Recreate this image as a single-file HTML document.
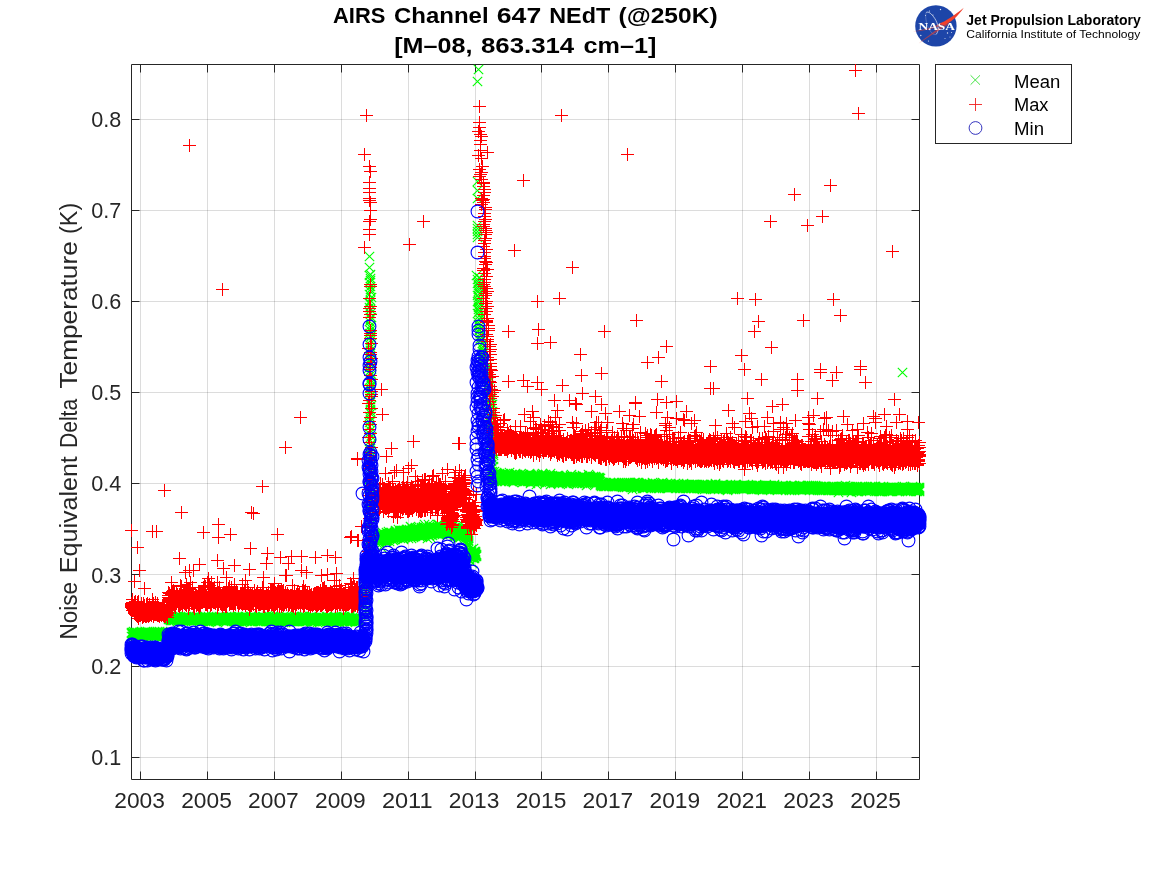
<!DOCTYPE html><html><head><meta charset="utf-8"><title>AIRS Channel 647 NEdT</title>
<style>html,body{margin:0;padding:0;background:#fff}svg{display:block;will-change:transform}text{font-family:'Liberation Sans',sans-serif}</style></head><body>
<svg width="1167" height="875" viewBox="0 0 1167 875" style="font-family:'Liberation Sans',sans-serif">
<rect width="1167" height="875" fill="#fff"/>
<defs>
<marker id="mp" markerUnits="userSpaceOnUse" markerWidth="16" markerHeight="16" refX="8" refY="8" viewBox="0 0 16 16" overflow="visible"><path d="M2 8.5H15M8.5 2V15" stroke="#f00" stroke-width="1" fill="none"/></marker>
<marker id="mx" markerUnits="userSpaceOnUse" markerWidth="16" markerHeight="16" refX="8" refY="8" viewBox="0 0 16 16" overflow="visible"><path d="M3.8 3.8L13.2 13.2M13.2 3.8L3.8 13.2" stroke="#0f0" stroke-width="1.1" fill="none"/></marker>
<marker id="mo" markerUnits="userSpaceOnUse" markerWidth="18" markerHeight="18" refX="9" refY="9" viewBox="0 0 18 18" overflow="visible"><circle cx="9.5" cy="9.5" r="6.4" stroke="#00f" stroke-width="1.1" fill="none"/></marker>
</defs>
<path d="M140.5 64.5V779.5M207.5 64.5V779.5M274.5 64.5V779.5M341.5 64.5V779.5M408.5 64.5V779.5M475.5 64.5V779.5M541.5 64.5V779.5M608.5 64.5V779.5M675.5 64.5V779.5M742.5 64.5V779.5M809.5 64.5V779.5M876.5 64.5V779.5" stroke="#262626" stroke-opacity="0.16" stroke-width="1" fill="none"/>
<path d="M131.5 757.5H919.5M131.5 666.5H919.5M131.5 574.5H919.5M131.5 483.5H919.5M131.5 392.5H919.5M131.5 301.5H919.5M131.5 210.5H919.5M131.5 119.5H919.5" stroke="#262626" stroke-opacity="0.16" stroke-width="1" fill="none"/>
<path d="M131.5 64.5H919.5V779.5H131.5ZM140.5 779.5v-8M140.5 64.5v8M207.5 779.5v-8M207.5 64.5v8M274.5 779.5v-8M274.5 64.5v8M341.5 779.5v-8M341.5 64.5v8M408.5 779.5v-8M408.5 64.5v8M475.5 779.5v-8M475.5 64.5v8M541.5 779.5v-8M541.5 64.5v8M608.5 779.5v-8M608.5 64.5v8M675.5 779.5v-8M675.5 64.5v8M742.5 779.5v-8M742.5 64.5v8M809.5 779.5v-8M809.5 64.5v8M876.5 779.5v-8M876.5 64.5v8M131.5 757.5h8M919.5 757.5h-8M131.5 666.5h8M919.5 666.5h-8M131.5 574.5h8M919.5 574.5h-8M131.5 483.5h8M919.5 483.5h-8M131.5 392.5h8M919.5 392.5h-8M131.5 301.5h8M919.5 301.5h-8M131.5 210.5h8M919.5 210.5h-8M131.5 119.5h8M919.5 119.5h-8" stroke="#262626" stroke-width="1" fill="none"/>
<polyline fill="none" stroke="none" marker-start="url(#mx)" marker-mid="url(#mx)" marker-end="url(#mx)" points="131,633 131,632 131,636 132,633 132,634 132,636 132,632 133,634 133,633 133,635 133,636 133,631 134,634 134,632 134,633 135,635 135,633 135,632 135,634 136,634 136,632 136,635 136,633 137,632 137,634 137,633 137,635 137,636 138,634 138,633 138,636 138,635 139,632 139,634 139,633 139,635 140,634 140,635 140,633 140,632 141,633 141,632 141,634 142,635 142,633 142,634 142,632 142,636 143,633 143,632 143,635 143,636 143,634 144,635 144,634 144,633 144,632 145,633 145,631 145,634 146,633 146,636 146,635 146,634 146,632 147,632 147,631 147,635 147,634 147,633 148,633 148,632 148,634 148,635 149,634 149,633 149,635 149,632 150,635 150,634 150,633 151,634 151,633 151,635 151,636 151,632 152,634 152,633 152,632 152,635 153,634 153,635 153,633 153,632 154,634 154,635 154,636 154,632 155,632 155,633 155,634 155,635 156,636 156,633 156,634 156,635 157,635 157,634 157,633 157,631 158,634 158,633 158,635 158,632 159,635 159,633 159,634 159,631 159,636 159,632 160,634 160,635 160,632 160,633 161,635 161,636 161,634 161,633 162,632 162,634 162,633 162,631 163,632 163,633 163,634 163,636 163,635 164,634 164,632 164,635 164,633 165,635 165,632 165,634 165,633 165,636 166,634 166,632 166,635 166,636 166,633 167,634 167,632 167,633 167,635 168,618 168,619 168,617 169,618 169,619 169,617 170,618 170,619 170,615 170,616 170,620 171,618 171,619 171,617 171,620 172,620 172,618 172,619 173,619 173,620 173,618 173,617 174,618 174,620 174,617 174,619 175,618 175,619 176,618 176,620 176,619 176,617 177,618 177,621 177,619 178,618 178,620 178,616 178,617 179,618 179,617 179,620 179,619 180,621 180,619 180,618 180,616 180,620 181,618 181,619 181,620 181,617 182,618 182,619 182,620 182,617 183,617 183,619 183,620 183,621 184,619 184,618 184,617 184,616 185,619 185,617 185,620 185,616 185,618 185,621 186,620 186,619 186,617 186,618 187,620 187,617 187,618 187,619 188,618 188,617 188,619 189,620 189,618 189,617 189,619 190,619 190,618 190,620 191,620 191,619 191,618 191,617 192,617 192,619 192,620 192,618 193,620 193,619 193,618 193,617 194,617 194,618 194,616 194,619 194,620 195,617 195,619 195,618 195,620 196,618 196,616 196,619 196,617 196,620 197,618 197,619 197,620 197,617 198,618 198,619 198,617 199,619 199,620 199,618 199,621 200,618 200,619 200,617 200,620 201,619 201,618 201,621 202,619 202,620 202,618 203,616 203,620 203,617 203,618 203,619 204,619 204,618 204,617 204,620 205,618 205,619 205,621 205,620 205,616 206,617 206,620 206,618 206,619 207,618 207,617 207,619 207,621 208,619 208,620 208,618 208,616 208,621 209,620 209,619 209,617 209,618 210,618 210,619 210,621 211,618 211,621 211,620 211,619 212,618 212,620 212,617 212,619 213,618 213,616 213,619 213,620 213,617 214,619 214,617 214,618 215,618 215,621 215,617 215,619 215,620 216,620 216,618 216,621 216,617 216,619 217,620 217,619 217,618 217,622 217,617 218,618 218,617 218,619 218,620 219,619 219,616 219,617 219,620 220,618 220,617 220,619 221,616 221,619 221,620 221,617 221,618 222,618 222,620 222,619 223,621 223,618 223,620 223,619 223,617 224,620 224,619 224,618 225,619 225,618 225,620 226,619 226,618 226,617 226,620 226,616 226,621 227,620 227,617 227,618 227,619 228,618 228,619 228,617 228,620 229,619 229,617 229,618 229,620 230,619 230,618 230,617 230,620 231,620 231,616 231,617 231,619 232,619 232,618 232,620 233,618 233,621 233,619 233,617 233,620 234,618 234,620 234,619 234,617 235,620 235,619 235,617 235,621 235,618 236,621 236,622 236,619 236,617 236,618 237,620 237,618 237,621 237,617 237,619 237,616 238,620 238,619 238,617 238,618 238,616 239,618 239,619 239,617 239,621 240,620 240,619 240,617 240,618 241,618 241,617 241,619 241,620 242,619 242,616 242,620 242,618 242,622 243,619 243,617 243,620 243,618 244,619 244,618 244,617 244,620 245,617 245,618 245,620 245,619 245,616 246,620 246,617 246,619 246,618 246,621 247,619 247,618 247,621 247,620 248,617 248,618 248,619 248,620 249,618 249,619 249,620 249,621 250,620 250,619 250,616 250,617 250,618 251,618 251,617 251,620 251,619 251,616 251,621 252,617 252,619 252,621 252,618 252,620 253,618 253,619 253,620 253,617 254,619 254,617 254,618 254,620 254,616 255,619 255,618 256,620 256,619 256,618 256,617 257,618 257,619 257,617 258,620 258,619 258,617 258,621 258,618 259,619 259,620 259,621 259,618 260,618 260,619 260,620 260,621 260,617 261,620 261,621 261,619 261,618 262,619 262,620 262,618 262,617 263,620 263,619 263,621 263,618 263,617 263,616 264,618 264,620 264,619 265,619 265,620 265,621 265,618 266,618 266,620 266,621 266,617 266,619 267,620 267,618 267,619 267,615 268,617 268,619 268,618 268,620 268,616 268,621 269,618 269,620 269,616 269,619 270,619 270,621 270,618 270,620 271,620 271,618 271,617 271,619 272,616 272,618 272,617 272,621 272,619 272,620 273,619 273,618 273,617 273,616 274,618 274,621 274,619 275,619 275,620 275,618 275,617 276,621 276,618 276,619 276,617 276,620 277,619 277,620 277,618 278,618 278,621 278,619 278,617 278,620 279,617 279,619 279,618 279,620 279,621 280,620 280,618 280,619 281,618 281,620 281,621 281,617 282,619 282,621 282,618 282,620 282,617 283,622 283,619 283,618 283,616 284,617 284,620 284,618 285,618 285,619 285,620 285,621 285,622 286,616 286,620 286,619 286,618 287,620 287,618 287,619 287,617 288,619 288,620 288,621 288,618 288,617 289,618 289,619 289,620 290,618 290,621 290,617 290,619 290,620 291,618 291,619 291,621 292,621 292,619 292,618 292,617 292,620 293,618 293,620 293,619 293,621 294,616 294,620 294,619 294,618 294,621 295,618 295,620 295,621 295,619 295,617 296,620 296,619 296,616 297,621 297,619 297,618 297,620 298,619 298,618 298,617 298,620 299,619 299,620 299,618 300,619 300,617 300,620 300,618 301,618 301,619 301,620 301,616 301,617 302,621 302,619 302,618 302,620 302,616 303,619 303,617 303,618 303,620 304,616 304,620 304,619 304,618 304,621 305,619 305,618 305,617 305,620 305,621 306,621 306,618 306,617 306,619 306,620 307,619 307,618 307,620 307,621 308,620 308,619 308,617 309,618 309,620 309,619 309,617 310,620 310,617 310,618 310,619 311,619 311,618 311,622 311,616 311,621 312,616 312,619 312,618 312,621 313,618 313,621 313,619 313,620 314,621 314,620 314,619 314,618 314,617 315,618 315,619 315,620 316,618 316,619 316,620 316,617 317,619 317,620 317,618 317,622 318,619 318,618 318,617 318,620 319,620 319,619 319,618 320,620 320,621 320,619 320,618 320,617 321,620 321,619 321,618 321,617 322,619 322,618 322,620 322,621 323,618 323,620 323,617 323,621 323,619 324,619 324,618 324,620 325,619 325,618 325,620 326,619 326,620 326,616 326,621 327,621 327,619 327,618 327,620 327,616 328,620 328,619 328,621 328,618 329,619 329,617 329,618 329,620 330,617 330,620 330,618 330,619 330,621 331,621 331,620 331,619 332,618 332,621 332,620 332,619 333,618 333,617 333,619 333,621 334,618 334,619 334,621 334,617 335,619 335,617 335,616 335,618 335,620 336,621 336,619 336,618 336,622 336,620 337,619 337,620 337,618 337,621 338,618 338,619 338,620 339,622 339,619 339,620 339,616 339,617 339,618 339,621 340,618 340,619 340,617 340,620 341,616 341,619 341,620 341,621 341,618 342,619 342,621 342,617 342,618 342,620 343,620 343,619 343,618 343,617 344,619 344,616 344,618 344,620 344,621 344,617 345,620 345,619 345,618 345,617 346,618 346,619 346,621 347,620 347,617 347,618 347,619 348,619 348,618 349,617 349,618 349,620 349,619 350,620 350,619 350,621 350,615 350,618 351,619 351,620 351,618 351,621 352,618 352,620 352,621 352,617 352,619 353,618 353,619 353,620 354,620 354,618 354,619 355,618 355,619 355,622 355,620 355,621 356,620 356,618 356,619 356,621 357,620 357,618 357,619 357,621 358,618 358,621 358,620 358,619 378,539 378,538 378,536 378,535 378,537 378,534 379,539 379,538 379,541 379,542 379,535 379,537 379,540 380,539 380,538 380,533 380,540 380,534 380,536 380,537 381,534 381,538 381,547 381,536 381,539 381,533 381,540 382,534 382,539 382,536 382,538 382,542 382,537 382,532 383,537 383,536 383,540 383,538 383,533 383,535 384,538 384,535 384,539 384,536 384,540 384,537 385,535 385,541 385,537 385,534 385,536 386,538 386,537 386,536 386,540 386,535 386,539 386,541 386,532 386,534 387,536 387,537 387,534 387,540 387,539 387,538 387,533 388,534 388,537 388,535 388,538 388,533 388,531 389,537 389,535 389,536 389,539 389,533 389,541 390,537 390,534 390,535 390,536 390,538 391,536 391,535 391,537 391,532 391,534 392,534 392,539 392,535 392,533 392,537 392,536 393,536 393,535 393,540 393,534 393,538 393,533 394,536 394,535 394,539 394,532 394,534 394,533 394,537 395,533 395,536 395,535 395,531 395,530 395,534 395,537 396,536 396,534 396,531 396,537 396,532 396,533 397,537 397,538 397,533 397,535 397,536 397,534 397,532 398,536 398,534 398,533 398,529 398,537 399,537 399,534 399,531 399,533 399,536 399,535 400,532 400,535 400,531 400,530 400,534 400,533 401,530 401,535 401,531 401,536 401,533 401,537 402,534 402,531 402,532 402,530 402,535 402,533 402,536 403,533 403,532 403,535 403,530 403,531 403,534 403,538 403,539 404,535 404,537 404,530 404,536 404,531 404,533 404,534 404,532 405,534 405,532 405,535 405,536 405,531 405,533 406,534 406,535 406,530 406,533 406,536 406,531 406,529 407,535 407,534 407,536 407,530 407,532 407,531 407,529 408,533 408,532 408,538 408,535 408,536 408,534 408,531 409,533 409,530 409,534 409,529 409,535 409,536 409,531 409,532 410,534 410,531 410,526 410,536 410,535 410,532 411,533 411,530 411,534 411,535 411,531 411,532 411,527 411,538 412,532 412,536 412,533 412,529 412,531 412,534 412,530 413,534 413,537 413,532 413,536 413,531 413,535 413,533 413,529 414,529 414,534 414,533 414,528 414,530 414,531 414,532 415,533 415,534 415,529 415,531 415,528 415,527 415,532 415,536 416,531 416,530 416,533 416,534 416,532 416,529 416,528 417,534 417,530 417,531 417,532 417,535 417,527 418,533 418,534 418,529 418,532 419,531 419,529 419,536 419,533 419,530 419,535 419,534 419,532 420,531 420,530 420,533 420,534 420,529 421,529 421,534 421,531 421,527 421,536 421,528 421,530 421,532 422,530 422,531 422,528 422,534 422,529 422,535 422,533 422,536 423,533 423,530 423,531 423,528 423,527 423,529 423,532 423,526 424,531 424,535 424,529 424,533 424,530 424,534 424,524 425,534 425,532 425,531 425,533 425,528 425,529 425,527 426,530 426,529 426,534 426,533 426,532 426,528 426,531 427,530 427,532 427,538 427,533 427,531 428,535 428,532 428,531 428,529 428,530 428,524 428,528 429,529 429,533 429,532 429,530 429,535 429,531 429,526 430,531 430,537 430,528 430,530 430,529 431,530 431,532 431,533 431,531 431,534 431,529 432,535 432,528 432,527 432,533 432,532 432,529 432,530 433,529 433,531 433,526 433,530 433,532 433,527 434,530 434,528 434,532 434,531 434,527 434,533 435,529 435,527 435,528 435,531 435,533 436,529 436,531 436,528 436,527 436,532 436,530 436,533 437,527 437,524 437,531 437,530 437,526 437,532 438,530 438,534 438,528 438,524 438,529 438,532 438,533 439,525 439,529 439,528 439,531 439,534 439,527 440,527 440,530 440,526 440,528 440,529 441,528 441,530 441,531 441,533 441,527 441,532 441,526 441,529 442,528 442,527 442,532 442,530 442,533 442,531 442,529 442,534 443,529 443,531 443,532 443,528 444,531 444,528 444,532 444,526 444,533 444,530 445,529 445,531 445,530 445,533 445,532 445,528 446,532 446,528 446,525 446,531 446,533 446,529 446,530 446,534 447,532 447,528 447,530 447,524 447,527 447,529 447,533 448,531 448,527 448,533 448,532 448,534 448,530 449,528 449,531 449,533 449,529 449,526 450,532 450,530 450,528 450,531 450,529 450,527 450,526 451,530 451,529 451,527 451,532 451,531 451,533 452,528 452,530 452,531 452,532 452,526 452,529 453,529 453,528 453,531 453,530 453,533 453,524 453,532 454,529 454,530 454,527 454,533 454,532 454,535 454,531 455,533 455,529 455,534 455,535 455,531 455,536 455,527 455,530 456,532 456,533 456,531 456,534 456,529 456,528 456,535 457,535 457,533 457,525 457,538 457,527 457,530 457,536 457,532 458,530 458,531 458,528 458,534 458,533 458,532 459,535 459,534 459,533 459,532 459,537 460,532 460,533 460,537 460,535 460,534 460,529 460,531 460,530 461,530 461,531 461,533 461,532 461,528 461,534 462,533 462,531 462,532 462,530 462,534 463,530 463,532 463,534 463,533 463,540 463,528 463,531 464,533 464,534 464,535 464,529 464,530 465,533 465,534 465,535 465,529 465,532 465,536 466,528 466,531 466,536 466,532 466,535 466,534 466,529 466,533 467,531 467,535 467,533 467,537 467,536 467,539 467,532 467,534 468,534 468,540 468,538 468,543 468,541 468,545 468,544 468,546 468,553 469,556 469,553 469,557 469,552 469,555 469,559 470,553 470,552 470,551 470,555 470,556 470,554 471,553 471,554 471,556 471,551 471,557 471,552 471,549 472,556 472,554 472,553 472,563 472,555 472,557 473,554 473,553 473,555 473,558 473,552 473,557 473,548 473,556 474,554 474,555 474,558 474,551 474,557 474,552 475,554 475,552 475,553 475,555 475,556 475,551 476,555 476,556 476,554 492,476 492,477 492,478 492,479 492,474 492,475 493,479 493,478 493,476 493,475 493,474 494,477 494,474 494,471 494,475 494,479 494,478 494,481 494,476 495,479 495,477 495,475 495,478 495,476 496,481 496,479 496,472 496,476 496,478 496,473 496,477 497,479 497,474 497,477 497,476 497,478 497,473 498,479 498,474 498,476 498,478 498,475 498,477 498,480 499,478 499,474 499,477 499,475 499,476 499,479 500,479 500,476 500,478 500,481 500,474 500,477 500,475 501,479 501,477 501,474 501,475 501,481 501,476 501,478 502,476 502,477 502,479 502,475 503,476 503,477 503,478 503,474 503,479 503,473 503,475 504,477 504,476 504,478 504,480 504,479 505,476 505,480 505,473 505,479 505,481 505,478 505,477 506,477 506,474 506,476 506,479 506,478 507,477 507,474 507,478 507,479 507,476 507,473 508,475 508,477 508,476 508,478 508,479 508,480 509,475 509,478 509,476 509,480 509,479 509,472 509,477 510,480 510,477 510,476 510,478 510,479 511,477 511,475 511,481 511,479 511,478 511,476 511,474 512,479 512,481 512,478 512,477 512,480 512,476 513,482 513,475 513,476 513,478 513,479 513,477 514,479 514,477 514,475 514,480 514,478 514,474 515,473 515,479 515,477 515,476 515,475 515,478 515,480 516,478 516,477 516,480 516,474 516,475 517,476 517,477 517,478 517,475 517,479 517,474 518,477 518,478 518,479 518,475 518,480 519,478 519,476 519,477 519,475 520,478 520,477 520,479 520,474 521,480 521,477 521,479 521,476 521,478 522,478 522,482 522,479 522,477 522,480 522,476 522,475 523,477 523,478 523,474 523,475 523,480 523,481 523,479 523,476 524,478 524,477 524,476 524,475 524,479 524,481 525,475 525,478 525,477 525,480 525,481 525,476 526,476 526,477 526,475 526,479 526,478 527,477 527,479 527,481 527,475 527,480 527,476 528,478 528,476 528,481 528,474 528,477 529,478 529,473 529,477 529,479 529,480 530,475 530,477 530,479 530,474 530,476 530,481 530,483 531,479 531,478 531,475 531,480 531,477 532,477 532,479 532,481 532,478 532,480 532,476 533,479 533,481 533,478 533,477 533,480 534,478 534,479 534,480 534,477 534,476 534,481 535,476 535,480 535,477 535,475 535,479 535,478 536,477 536,480 536,481 536,484 536,479 536,475 536,476 537,479 537,474 537,480 537,475 537,477 537,476 537,478 538,478 538,477 538,481 538,479 538,475 539,481 539,479 539,480 539,477 539,476 540,480 540,478 540,481 540,477 540,479 540,476 541,476 541,480 541,478 541,474 541,475 541,479 541,477 542,473 542,479 542,478 542,480 542,477 542,475 542,476 543,477 543,476 543,478 543,480 543,479 543,474 544,477 544,479 544,478 544,475 544,481 545,479 545,483 545,480 545,481 545,482 545,477 545,474 546,477 546,480 546,478 546,479 546,475 547,477 547,479 547,476 547,482 547,478 547,480 547,481 548,478 548,477 548,479 548,480 549,477 549,480 549,478 549,482 549,479 550,484 550,475 550,477 550,473 550,481 550,478 550,479 550,480 551,477 551,480 551,478 551,476 551,479 551,483 552,476 552,475 552,480 552,478 552,479 553,482 553,478 553,477 553,480 553,476 554,479 554,478 554,476 554,482 554,477 555,478 555,482 555,480 555,481 555,479 555,476 556,479 556,478 556,476 556,477 556,480 556,482 557,477 557,478 557,475 557,480 557,479 558,479 558,480 558,483 558,478 558,475 558,476 558,481 559,479 559,478 559,477 559,480 559,476 559,481 560,478 560,479 560,477 560,480 560,482 561,478 561,479 561,477 561,480 561,481 562,476 562,480 562,477 562,481 562,479 562,478 562,483 563,479 563,478 563,477 563,480 563,481 564,477 564,481 564,476 564,478 564,479 564,480 565,478 565,480 565,479 565,481 566,479 566,478 566,480 566,482 566,481 566,476 566,483 567,481 567,478 567,479 567,483 567,480 567,477 568,480 568,477 568,481 568,478 568,479 568,484 569,480 569,479 569,481 569,478 569,482 570,479 570,480 570,477 570,481 570,478 570,475 571,477 571,479 571,481 571,476 571,474 571,480 571,478 572,482 572,480 572,481 572,479 572,478 572,477 573,477 573,481 573,479 573,480 573,483 573,478 574,481 574,480 574,478 574,479 574,482 575,480 575,479 575,477 575,476 575,478 575,481 576,481 576,479 576,478 576,477 576,482 576,480 577,477 577,480 577,478 577,483 577,481 577,482 578,478 578,477 578,480 578,481 578,482 578,479 579,480 579,479 579,481 579,478 579,483 580,477 580,480 580,476 580,481 580,479 580,478 581,481 581,480 581,479 581,478 581,477 582,480 582,476 582,478 582,477 582,483 582,475 583,480 583,478 583,477 583,481 583,479 584,476 584,481 584,483 584,477 584,480 584,478 584,479 585,478 585,480 585,481 585,479 586,480 586,477 586,485 586,482 586,479 586,478 587,480 587,479 587,481 587,478 587,482 587,484 588,479 588,477 588,483 588,474 588,480 589,481 589,480 589,475 589,479 589,478 589,476 590,479 590,476 590,482 590,481 590,478 591,480 591,481 591,479 592,482 592,481 592,477 592,479 592,478 592,480 593,480 593,476 593,481 593,479 593,478 593,477 594,478 594,480 594,479 594,481 594,477 595,481 595,476 595,479 595,480 595,477 595,482 596,482 596,481 596,480 596,479 596,483 596,478 596,477 597,478 597,481 597,480 597,479 597,482 598,477 598,481 598,482 598,479 598,480 598,478 599,478 599,481 599,480 599,477 599,482 600,481 600,478 600,483 600,485 600,484 601,486 601,483 601,484 601,482 601,485 602,485 602,484 602,483 602,482 603,486 603,484 603,485 603,483 603,482 604,484 604,485 604,486 604,483 605,486 605,485 605,484 605,483 606,484 606,485 606,486 607,484 607,485 608,484 608,485 608,483 608,486 609,484 609,485 609,483 610,482 610,485 610,483 610,484 611,485 611,484 611,483 612,486 612,485 612,484 612,483 613,484 613,485 613,482 613,483 614,483 614,486 614,482 614,485 614,484 615,486 615,483 615,484 615,485 616,484 616,485 616,483 616,486 617,485 617,483 617,484 618,483 618,482 618,485 618,486 618,484 619,483 619,485 619,484 619,486 620,486 620,484 620,485 621,485 621,483 621,486 622,487 622,485 622,483 622,484 622,486 623,485 623,484 623,486 623,483 624,485 624,484 624,482 624,487 624,483 624,486 625,484 625,485 625,486 626,487 626,484 626,485 626,483 626,486 627,483 627,485 627,486 627,484 628,484 628,485 628,482 629,485 629,484 629,483 629,486 630,484 630,486 630,485 630,482 630,483 631,485 631,486 631,487 631,484 632,484 632,485 632,489 632,483 632,486 633,486 633,485 633,484 633,483 634,485 634,487 634,483 634,484 634,482 634,486 635,485 635,486 635,482 635,484 636,484 636,485 636,486 636,488 636,487 637,485 637,484 637,486 637,482 638,486 638,485 638,483 638,484 638,482 639,484 639,485 639,486 639,487 639,483 640,486 640,484 640,485 641,484 641,486 641,485 641,483 642,484 642,486 642,485 642,488 643,485 643,486 643,488 643,484 644,484 644,483 644,485 644,487 644,486 645,487 645,486 645,484 645,485 645,483 646,485 646,484 646,486 646,487 647,485 647,486 647,487 647,483 648,484 648,486 648,485 649,485 649,486 649,487 649,484 650,486 650,485 650,484 651,486 651,487 651,485 652,485 652,482 652,484 652,487 653,485 653,486 653,484 654,486 654,485 654,484 654,488 655,484 655,485 655,486 655,483 656,485 656,487 656,488 656,486 656,484 657,484 657,485 657,486 658,484 658,488 658,486 658,485 658,487 658,483 659,487 659,488 659,484 659,485 659,486 660,487 660,485 660,486 660,484 661,485 661,486 661,484 661,487 661,483 662,484 662,486 662,485 662,482 662,487 663,486 663,485 663,487 663,483 664,486 664,487 664,485 664,484 665,487 665,484 665,485 665,486 666,484 666,485 666,486 667,485 667,487 667,486 667,483 668,488 668,485 668,486 668,487 668,484 669,486 669,487 669,485 669,484 670,485 670,487 670,486 670,484 671,485 671,486 671,484 671,487 672,485 672,486 672,487 673,485 673,486 673,487 674,487 674,485 674,486 675,488 675,483 675,485 675,486 675,487 676,485 676,486 676,487 677,486 677,487 677,484 678,486 678,485 678,483 678,487 678,484 679,484 679,488 679,485 679,486 679,487 680,487 680,486 680,485 680,488 681,487 681,484 681,485 681,486 682,487 682,485 682,486 682,488 682,484 683,486 683,485 683,483 684,486 684,485 684,487 685,487 685,486 685,485 685,488 686,486 686,488 686,487 686,485 687,487 687,485 687,486 688,487 688,488 688,486 688,485 689,487 689,486 689,484 689,485 690,487 690,485 690,486 691,484 691,487 691,485 691,488 691,486 692,486 692,487 692,484 692,485 693,485 693,486 693,484 693,487 693,488 694,485 694,486 694,484 695,485 695,486 695,487 695,484 696,485 696,484 696,486 696,487 697,484 697,487 697,488 697,486 697,485 698,488 698,487 698,485 698,486 699,486 699,487 699,485 699,488 700,486 700,487 700,488 701,485 701,487 701,488 701,486 702,487 702,484 702,485 702,486 702,488 702,489 703,485 703,486 703,487 704,486 704,487 704,485 704,489 705,485 705,487 705,486 705,488 706,486 706,488 706,485 706,487 707,487 707,486 707,484 707,488 707,485 708,486 708,485 708,487 708,488 709,485 709,486 709,487 710,487 710,485 710,486 710,484 711,484 711,487 711,486 711,485 711,488 712,487 712,485 712,486 712,488 712,484 713,486 713,487 713,485 713,488 714,488 714,486 714,487 714,485 714,489 715,483 715,488 715,487 715,485 715,484 715,486 716,486 716,485 716,487 716,488 717,485 717,488 717,487 717,486 718,488 718,486 718,487 718,485 718,489 719,487 719,488 719,485 720,487 720,488 720,486 720,485 721,486 721,488 721,485 721,487 722,486 722,487 722,488 723,487 723,486 723,488 723,484 723,485 724,486 724,487 725,486 725,487 725,485 725,489 725,488 726,487 726,486 726,485 727,488 727,487 727,489 727,486 727,490 728,486 728,487 728,489 729,485 729,486 729,487 729,488 730,487 730,488 730,485 730,486 730,484 731,488 731,486 731,487 731,485 731,489 732,486 732,487 732,488 732,485 733,487 733,486 733,489 733,488 733,485 734,487 734,486 734,488 734,485 735,486 735,487 735,484 735,488 735,485 736,487 736,488 736,486 736,485 737,486 737,488 737,487 738,486 738,487 738,488 738,485 739,487 739,488 739,486 740,487 740,485 740,486 740,488 741,485 741,487 741,488 741,486 742,486 742,487 742,488 742,485 743,486 743,487 743,489 743,485 744,487 744,486 744,488 744,484 745,487 745,488 745,485 745,486 746,487 746,486 746,488 747,486 747,487 747,488 747,485 748,486 748,487 749,488 749,486 749,487 750,486 750,488 750,485 750,487 751,486 751,487 751,485 751,489 751,488 752,486 752,487 752,489 752,485 752,488 753,488 753,487 753,489 754,487 754,488 754,485 754,489 754,486 755,487 755,486 755,488 756,489 756,487 756,488 756,486 756,485 756,484 757,487 757,486 757,485 757,488 758,487 758,488 758,486 758,489 758,485 759,487 759,486 759,488 759,485 759,489 760,486 760,487 760,489 761,486 761,487 761,488 762,488 762,487 762,490 762,486 762,489 763,487 763,488 763,486 764,488 764,487 764,485 764,486 765,488 765,487 765,486 765,485 766,488 766,489 766,487 766,485 766,486 767,486 767,489 767,488 767,487 768,485 768,487 768,488 768,489 768,486 769,487 769,485 769,486 769,489 769,488 770,486 770,487 770,488 770,485 771,486 771,488 771,487 771,485 771,489 772,487 772,486 772,488 772,489 773,486 773,488 773,487 774,487 774,488 774,484 774,486 774,489 775,487 775,486 775,488 776,488 776,487 776,489 776,486 777,487 777,488 777,486 777,489 777,490 778,487 778,488 778,486 778,489 779,488 779,486 779,487 780,487 780,488 780,486 780,489 781,488 781,486 781,489 781,487 782,489 782,487 782,486 782,488 782,485 783,488 783,487 783,489 783,486 784,487 784,488 785,486 785,488 785,487 785,485 786,487 786,488 786,489 787,487 787,486 787,488 788,487 788,486 788,488 788,489 789,488 789,487 789,490 789,489 789,486 790,487 790,488 790,486 791,488 791,487 791,485 791,490 791,486 791,489 792,488 792,487 792,489 792,486 793,489 793,487 793,488 793,486 794,487 794,489 794,490 794,486 794,485 795,487 795,486 795,489 795,488 796,488 796,487 796,486 796,489 797,488 797,487 798,488 798,486 798,489 798,487 799,489 799,486 799,488 799,487 799,485 800,487 800,489 800,486 800,485 801,488 801,487 801,486 801,489 802,487 802,489 802,488 803,488 803,487 803,489 803,486 804,489 804,488 804,486 804,487 805,489 805,488 805,487 805,486 806,488 806,489 806,486 807,488 807,486 807,487 807,485 807,489 808,487 808,488 808,489 808,486 809,489 809,487 809,485 809,488 809,490 810,489 810,486 810,488 810,487 811,487 811,489 811,485 811,488 811,486 812,488 812,487 812,486 812,489 813,488 813,489 813,487 813,490 813,485 814,487 814,488 814,489 815,486 815,489 815,485 815,487 815,488 816,489 816,487 816,486 816,488 817,487 817,486 817,489 817,488 818,488 818,489 818,486 818,487 819,488 819,487 819,489 819,490 820,487 820,489 820,488 820,486 821,489 821,488 821,486 821,487 821,490 822,488 822,487 822,489 823,490 823,487 823,488 823,489 824,487 824,489 824,488 824,486 825,487 825,490 825,488 825,486 825,489 826,488 826,487 826,486 826,489 827,488 827,489 827,487 828,487 828,488 828,486 828,490 828,489 829,488 829,487 829,489 830,487 830,488 830,489 831,486 831,489 831,490 831,488 831,487 832,487 832,489 832,488 832,486 833,489 833,488 833,487 833,486 834,488 834,490 834,487 834,489 835,487 835,489 835,488 835,490 836,487 836,489 836,488 837,488 837,489 837,487 837,490 838,490 838,492 838,488 838,486 838,489 839,488 839,487 839,489 839,490 840,490 840,488 840,489 840,487 841,490 841,488 841,487 841,486 841,489 842,486 842,488 842,487 842,489 842,490 843,488 843,490 843,487 843,489 843,486 844,488 844,489 844,486 844,487 845,488 845,487 845,489 845,485 846,488 846,487 846,489 847,489 847,488 847,487 847,490 847,486 848,488 848,487 848,489 848,490 849,487 849,489 849,488 849,490 850,487 850,490 850,489 850,488 850,486 851,489 851,492 851,488 851,490 851,487 852,487 852,490 852,488 852,489 853,487 853,488 853,489 854,490 854,487 854,488 854,489 855,487 855,488 855,490 856,488 856,491 856,489 856,486 856,487 857,489 857,488 857,491 857,487 857,486 858,489 858,487 858,491 858,488 858,490 859,490 859,488 859,489 859,487 860,488 860,486 860,489 860,490 860,487 861,489 861,490 861,488 861,487 861,491 862,489 862,488 862,490 862,487 862,486 863,488 863,489 863,487 863,490 864,488 864,487 864,490 864,489 865,488 865,487 865,489 866,489 866,487 866,488 866,491 867,488 867,487 867,490 867,489 868,487 868,488 868,489 869,489 869,487 869,490 869,488 870,489 870,486 870,488 870,487 871,490 871,488 871,487 871,489 872,489 872,487 872,486 873,488 873,489 873,487 873,490 874,489 874,488 874,487 874,486 875,490 875,488 875,487 875,489 875,486 876,490 876,489 876,488 876,491 877,489 877,488 877,490 878,489 878,488 878,491 878,490 879,488 879,487 879,489 879,490 879,491 880,491 880,488 880,486 880,489 880,487 881,490 881,488 881,489 881,491 881,487 882,490 882,488 882,491 882,489 883,489 883,486 883,488 883,487 884,488 884,489 884,490 885,488 885,489 885,487 885,490 886,489 886,488 886,490 886,487 887,490 887,488 887,487 887,489 888,489 888,488 888,487 888,491 888,490 889,490 889,487 889,488 889,489 890,489 890,488 890,491 890,490 890,487 891,488 891,489 891,490 891,487 892,489 892,488 892,490 892,487 892,491 893,490 893,487 893,489 893,488 894,489 894,490 894,488 895,488 895,489 895,490 896,488 896,487 896,490 896,489 897,488 897,489 897,490 897,491 898,489 898,490 898,487 898,488 899,487 899,489 899,490 899,488 899,491 900,489 900,488 900,490 901,489 901,490 901,488 901,487 902,489 902,488 902,490 902,486 903,487 903,489 903,490 903,488 904,488 904,489 904,487 904,486 905,489 905,491 905,490 905,488 906,487 906,488 906,489 906,490 907,490 907,489 907,488 907,491 908,488 908,487 908,489 908,490 909,488 909,487 909,489 909,490 910,490 910,489 910,488 910,491 911,489 911,488 911,490 912,489 912,486 912,487 912,488 913,490 913,489 913,488 913,487 914,488 914,490 914,489 914,487 915,490 915,487 915,488 915,489 916,491 916,489 916,487 916,488 916,490 917,489 917,490 917,491 917,488 918,487 918,488 918,489 918,490 919,490 919,488 919,491 919,489 919,487 902,372 369,256 369,267 370,274 369,275 370,278 370,280 369,282 370,286 370,289 370,291 369,294 371,297 370,300 369,302 369,303 369,307 370,309 370,313 371,317 370,318 369,321 370,325 370,327 370,330 369,333 371,335 370,337 370,340 369,344 370,347 370,350 370,353 369,356 370,359 370,362 370,364 368,368 369,371 371,374 371,377 370,379 370,381 370,383 371,385 369,388 370,391 369,393 370,396 370,399 370,402 371,405 370,409 370,411 370,413 369,416 370,420 369,422 369,426 370,430 369,433 371,436 370,440 371,443 370,445 369,449 369,453 370,455 370,457 368,459 370,462 369,466 370,470 370,473 369,476 369,479 370,482 370,485 369,487 370,490 370,494 369,497 370,500 370,504 368,507 369,509 369,513 371,516 371,517 369,521 370,524 369,526 371,529 370,533 370,536 370,539 369,541 371,543 370,546 369,549 371,553 371,555 369,557 368,560 368,562 366,564 365,567 366,569 366,573 365,576 366,578 365,580 365,583 365,585 365,588 365,591 365,594 365,598 366,602 365,605 365,609 365,612 365,616 366,617 478,69 477,81 477,181 477,190 477,198 477,225 477,228 477,231 477,234 477,237 476,275 479,277 477,279 478,282 477,283 478,285 478,287 478,289 478,291 479,293 477,295 478,297 478,300 477,301 478,302 478,305 478,307 478,309 479,311 477,313 480,314 480,317 479,319 478,322 478,324 479,326 479,329 479,330 480,333 480,335 480,338 480,340 482,343 482,346 482,348 483,350 482,351 483,352 481,354 482,356 482,357 482,359 484,360 483,363 484,364 486,366 486,368 486,370 485,373 486,375 488,376 488,379 488,381 488,382 487,385 488,387 488,390 490,392 489,394 491,396 491,398 490,400 489,403 492,404 490,406 490,409 492,411 492,412 490,414 490,416 492,418 490,420 490,423 491,424 491,427 492,429 490,430 492,432 492,433 491,435 492,437 492,439 491,442 490,443 490,445 492,447 492,450 493,453 493,455 491,456 493,459 491,461 491,464 493,466 491,468 492,471 491,472"/>
<polyline fill="none" stroke="none" marker-start="url(#mp)" marker-mid="url(#mp)" marker-end="url(#mp)" points="131,604 131,606 131,603 131,605 131,607 132,605 132,599 132,604 132,608 132,602 132,610 133,607 133,606 133,608 133,605 133,610 133,609 134,610 134,602 134,609 134,608 134,611 134,613 134,612 135,614 135,613 135,607 135,611 135,609 135,601 136,613 136,614 136,610 136,611 136,612 136,615 137,610 137,611 137,602 137,612 137,613 137,614 137,616 138,612 138,610 138,618 138,601 138,608 138,613 138,611 138,609 139,608 139,612 139,611 139,610 139,614 139,615 139,609 140,615 140,614 140,612 140,609 140,613 140,610 140,608 140,611 141,609 141,614 141,613 141,610 141,612 141,611 141,603 142,610 142,612 142,617 142,613 142,609 142,611 143,612 143,613 143,614 143,616 143,611 143,603 143,610 144,613 144,611 144,614 144,605 144,615 145,610 145,615 145,612 145,614 145,609 145,616 145,611 146,611 146,612 146,609 146,616 146,604 146,613 147,613 147,611 147,614 147,603 147,607 147,615 147,612 148,613 148,614 148,607 148,612 148,610 148,616 149,610 149,612 149,615 149,611 149,614 149,613 149,604 150,611 150,614 150,612 150,609 150,607 151,614 151,611 151,613 151,615 151,612 151,610 152,608 152,601 152,611 152,610 152,599 152,613 152,609 153,616 153,612 153,611 153,606 153,608 153,603 153,613 154,612 154,613 154,610 154,611 154,614 154,609 155,609 155,614 155,608 155,602 155,613 155,612 156,612 156,608 156,613 156,609 156,614 157,614 157,612 157,615 157,603 157,611 157,613 157,609 157,608 158,611 158,613 158,609 158,612 158,615 158,610 158,614 159,613 159,612 159,616 159,614 159,610 159,608 159,611 160,613 160,610 160,609 160,611 160,612 160,614 161,614 161,609 161,611 161,612 161,615 162,612 162,614 162,613 162,608 162,611 163,610 163,612 163,615 163,611 163,609 163,613 163,608 164,612 164,609 164,615 164,611 164,613 164,614 164,610 164,616 165,615 165,616 165,611 165,612 165,613 165,610 166,613 166,612 166,611 166,614 166,607 166,608 167,610 167,615 167,613 167,608 167,612 167,617 168,595 168,600 168,597 168,599 168,604 168,592 168,601 169,597 169,599 169,600 169,598 169,593 169,604 169,602 170,599 170,600 170,601 170,597 170,595 171,600 171,594 171,599 171,598 171,605 172,599 172,595 172,602 172,603 172,598 172,591 172,600 172,597 173,600 173,591 173,590 173,597 173,601 173,602 173,604 174,596 174,599 174,605 174,598 174,601 174,595 174,592 175,607 175,603 175,600 175,598 175,597 176,597 176,603 176,601 176,602 176,600 176,594 176,593 176,598 176,599 176,596 177,599 177,600 177,601 177,598 177,594 177,597 178,597 178,605 178,603 178,600 178,598 178,604 178,599 179,606 179,602 179,601 179,598 179,600 179,603 179,594 179,595 180,592 180,596 180,593 180,599 180,594 180,597 180,595 180,604 180,601 180,585 181,602 181,601 181,594 181,598 181,603 181,597 181,600 181,599 181,592 181,586 182,599 182,597 182,602 182,600 182,595 182,604 182,605 183,602 183,593 183,598 183,599 183,600 183,596 183,601 184,593 184,598 184,601 184,599 184,603 184,600 184,602 184,595 185,599 185,596 185,592 185,594 185,600 185,602 185,604 185,601 185,572 186,584 186,605 186,600 186,587 186,599 186,597 186,602 186,601 187,596 187,597 187,598 187,600 187,599 187,589 187,602 188,600 188,598 188,608 188,597 188,589 188,601 188,599 188,595 188,603 189,596 189,595 189,599 189,604 189,588 189,601 189,597 190,598 190,600 190,593 190,596 190,582 190,597 191,601 191,593 191,596 191,602 191,603 191,599 191,597 191,595 191,594 192,600 192,603 192,597 192,587 192,595 192,602 192,596 192,601 193,600 193,598 193,606 193,597 193,596 193,593 193,599 193,595 194,600 194,599 194,598 194,601 194,597 194,608 195,601 195,602 195,594 195,597 195,596 195,600 195,593 195,595 195,598 196,603 196,601 196,600 196,597 196,602 196,605 196,598 196,595 197,602 197,596 197,600 197,597 197,599 197,601 197,604 198,605 198,600 198,595 198,602 198,597 198,596 198,599 198,591 198,598 199,592 199,599 199,606 199,593 199,607 199,601 199,597 200,594 200,597 200,605 200,604 200,600 200,596 200,601 200,602 201,595 201,597 201,601 201,592 201,602 201,599 201,594 202,598 202,600 202,601 202,602 202,596 202,595 202,599 202,591 203,599 203,593 203,597 203,596 203,587 203,600 203,601 204,601 204,600 204,585 204,597 204,599 204,596 204,598 205,602 205,604 205,595 205,586 205,603 205,599 206,603 206,601 206,596 206,598 206,595 206,602 206,604 207,597 207,599 207,600 207,598 207,601 207,582 207,604 207,605 208,596 208,598 208,602 208,582 208,597 208,601 209,595 209,585 209,597 209,601 209,602 209,598 209,589 210,597 210,587 210,605 210,599 210,601 210,598 210,592 210,600 210,603 211,602 211,604 211,596 211,597 211,599 211,582 211,601 211,595 211,600 212,601 212,595 212,596 212,599 212,597 212,589 213,599 213,597 213,598 213,600 213,602 213,588 213,601 213,591 213,593 214,598 214,587 214,601 214,602 214,594 214,600 214,597 215,593 215,602 215,601 215,596 215,603 216,595 216,598 216,596 216,597 216,600 216,599 217,598 217,602 217,607 217,600 217,582 217,601 217,605 217,599 217,597 217,596 218,596 218,599 218,592 218,604 218,597 218,601 218,598 218,600 219,596 219,599 219,595 219,601 219,598 219,600 219,592 219,587 220,601 220,598 220,597 220,599 220,603 220,602 220,594 221,598 221,597 221,600 221,601 221,595 221,596 221,602 221,604 222,596 222,606 222,599 222,597 222,601 222,595 222,603 223,596 223,600 223,597 223,604 223,594 223,601 223,598 223,599 224,600 224,601 224,603 224,604 224,599 224,597 225,605 225,602 225,597 225,600 225,595 225,601 225,598 225,606 225,599 226,597 226,606 226,599 226,590 226,598 226,577 226,602 226,601 227,597 227,600 227,599 227,601 227,598 227,594 228,597 228,589 228,600 228,594 228,588 228,598 229,598 229,600 229,604 229,599 229,603 229,586 229,595 229,597 230,599 230,602 230,598 230,603 230,600 230,596 230,597 231,596 231,600 231,602 231,603 231,587 231,598 231,597 232,593 232,598 232,599 232,602 232,592 232,597 232,603 232,600 233,602 233,595 233,603 233,597 233,605 233,600 233,594 233,592 233,598 234,595 234,597 234,600 234,599 234,601 234,584 234,603 234,598 234,602 235,601 235,600 235,594 235,603 235,597 235,596 235,604 236,596 236,597 236,591 236,594 236,598 236,599 236,592 237,597 237,602 237,596 237,594 237,601 237,600 237,598 237,595 237,592 238,599 238,598 238,604 238,600 238,601 238,605 239,600 239,602 239,601 239,603 239,596 239,599 239,598 240,598 240,596 240,599 240,602 240,597 240,600 240,595 240,593 241,600 241,603 241,597 241,593 241,599 241,601 241,602 241,598 242,604 242,601 242,596 242,599 242,602 242,597 242,584 243,601 243,596 243,600 243,597 243,598 243,603 243,594 243,602 244,596 244,598 244,599 244,601 244,590 244,603 244,597 244,600 245,593 245,597 245,598 245,599 245,602 245,605 245,594 245,580 245,603 246,596 246,601 246,603 246,598 246,595 246,597 247,591 247,587 247,600 247,599 247,597 247,602 248,592 248,595 248,599 248,597 248,604 248,603 248,600 249,601 249,599 249,600 249,595 249,597 249,596 249,609 250,600 250,596 250,599 250,601 250,593 250,595 250,602 250,605 251,596 251,601 251,598 251,595 251,602 251,605 251,597 251,603 252,600 252,593 252,598 252,601 252,597 252,602 252,596 253,601 253,599 253,603 253,597 253,602 253,604 254,590 254,598 254,595 254,592 254,599 254,600 254,597 255,599 255,597 255,595 255,605 255,602 255,600 255,598 256,602 256,606 256,597 256,594 256,596 256,598 256,595 256,600 257,599 257,591 257,597 257,602 257,600 257,595 257,592 257,601 257,598 258,604 258,600 258,603 258,599 258,595 259,602 259,604 259,600 259,595 259,599 259,597 259,598 260,594 260,599 260,593 260,603 260,604 260,601 260,600 260,595 260,596 261,595 261,599 261,601 261,603 261,602 261,598 261,596 262,590 262,598 262,601 262,587 262,595 262,596 262,600 262,603 263,598 263,600 263,593 263,602 263,587 263,605 263,606 264,602 264,598 264,597 264,599 264,604 264,606 265,598 265,597 265,603 265,596 265,599 265,601 266,602 266,600 266,598 266,599 266,594 266,601 266,597 266,603 267,597 267,596 267,599 267,605 267,601 267,598 267,595 268,597 268,594 268,601 268,600 268,592 268,599 268,605 269,604 269,603 269,601 269,600 269,597 269,602 270,597 270,601 270,595 270,602 270,599 270,590 270,596 271,597 271,603 271,593 271,601 271,599 271,590 271,600 271,604 271,598 272,602 272,598 272,601 272,604 272,599 272,600 272,590 272,594 273,599 273,596 273,602 273,600 273,605 273,598 273,590 273,595 274,599 274,595 274,596 274,607 274,598 274,600 274,583 275,599 275,597 275,596 275,602 275,592 275,604 276,597 276,599 276,598 276,602 276,603 276,594 276,593 277,596 277,599 277,591 277,598 277,601 277,604 277,605 278,598 278,589 278,592 278,601 278,599 278,597 278,591 279,601 279,604 279,606 279,600 279,598 279,591 279,594 279,597 280,599 280,591 280,600 280,598 280,602 280,597 280,603 280,595 281,601 281,589 281,597 281,603 281,606 281,599 281,600 281,598 282,600 282,599 282,604 282,597 282,598 282,602 282,591 283,605 283,600 283,590 283,601 283,597 283,596 283,599 283,595 284,603 284,599 284,598 284,600 284,602 284,597 284,596 284,604 285,601 285,602 285,597 285,599 285,592 285,596 285,575 286,600 286,597 286,598 286,604 286,575 286,595 286,599 287,598 287,600 287,595 287,601 287,593 287,597 287,594 288,599 288,595 288,600 288,597 288,596 288,601 288,603 288,605 289,599 289,596 289,597 289,600 289,604 289,598 290,600 290,602 290,596 290,595 290,601 290,597 290,599 291,604 291,601 291,605 291,598 291,595 291,602 291,597 292,600 292,601 292,597 292,598 292,602 292,585 292,592 292,596 292,605 293,597 293,606 293,596 293,601 293,599 293,604 293,600 294,598 294,590 294,603 294,597 294,600 294,601 295,604 295,596 295,608 295,597 295,600 295,598 295,602 295,605 296,594 296,595 296,599 296,601 296,602 296,604 296,596 296,597 296,603 297,598 297,601 297,596 297,599 297,594 297,591 298,601 298,596 298,600 298,594 298,595 298,603 298,599 298,597 299,602 299,599 299,598 299,600 299,593 299,601 300,599 300,602 300,600 300,597 300,604 300,598 300,605 301,602 301,600 301,601 301,599 301,598 302,597 302,603 302,590 302,598 302,596 302,600 302,599 303,600 303,606 303,586 303,605 303,598 303,596 303,602 303,603 303,592 303,601 304,599 304,598 304,605 304,591 304,601 304,595 304,600 304,596 304,597 305,600 305,590 305,599 305,594 305,598 305,601 305,596 305,602 306,600 306,597 306,596 306,603 306,598 306,595 306,599 307,598 307,601 307,600 307,603 307,596 307,602 307,594 307,599 307,592 308,603 308,602 308,601 308,599 308,600 308,597 308,605 309,592 309,597 309,602 309,600 309,604 309,595 309,603 309,594 310,596 310,602 310,595 310,599 310,598 310,600 310,606 311,600 311,602 311,596 311,599 311,597 311,594 311,604 312,601 312,600 312,605 312,598 312,602 312,597 313,601 313,597 313,594 313,599 313,600 313,604 313,602 314,599 314,593 314,597 314,600 314,603 314,601 314,596 314,602 315,597 315,593 315,596 315,604 315,603 315,600 316,596 316,603 316,598 316,606 316,599 316,592 316,595 316,601 317,600 317,602 317,599 317,592 317,598 317,605 317,594 317,601 318,592 318,598 318,599 318,604 318,594 318,600 318,601 319,601 319,603 319,597 319,600 319,598 319,595 319,602 319,599 320,599 320,598 320,596 320,594 320,590 320,605 320,600 320,601 321,605 321,601 321,602 321,596 321,595 321,598 321,575 321,599 322,601 322,600 322,597 322,604 322,588 322,599 322,598 322,592 323,600 323,601 323,602 323,603 323,599 323,588 323,596 324,596 324,602 324,594 324,599 324,598 324,601 324,587 324,600 325,603 325,593 325,599 325,604 325,600 325,596 325,601 325,591 326,597 326,598 326,603 326,591 326,595 326,605 326,601 326,606 326,600 327,603 327,601 327,598 327,600 327,602 327,595 327,606 328,603 328,605 328,598 328,600 328,593 328,601 328,604 328,594 328,599 328,597 329,598 329,594 329,595 329,596 329,602 329,599 329,593 329,604 329,600 329,601 330,604 330,591 330,596 330,601 330,597 330,598 330,600 330,599 331,601 331,597 331,603 331,600 331,598 331,605 331,593 331,599 332,595 332,598 332,601 332,592 332,600 332,597 332,604 332,599 332,602 333,601 333,600 333,598 333,599 333,602 333,597 333,603 333,596 334,601 334,602 334,580 334,597 334,598 334,589 334,592 334,599 334,600 335,595 335,599 335,606 335,601 335,604 335,597 335,600 335,596 336,603 336,599 336,588 336,598 336,601 336,586 337,605 337,602 337,595 337,601 337,603 337,599 337,597 337,596 338,597 338,601 338,598 338,596 338,602 338,600 339,602 339,585 339,603 339,604 339,596 339,599 339,598 340,601 340,597 340,598 340,590 340,596 340,600 340,599 340,604 341,600 341,598 341,594 341,601 341,599 341,589 341,596 342,601 342,597 342,604 342,595 342,600 342,602 342,598 342,599 343,608 343,598 343,601 343,603 343,600 343,597 343,595 343,593 343,599 344,602 344,600 344,595 344,604 344,593 344,599 344,597 344,598 345,599 345,603 345,592 345,602 345,598 345,605 345,604 345,600 346,599 346,600 346,604 346,597 346,603 346,602 346,598 346,596 347,604 347,597 347,600 347,603 347,602 347,599 347,595 348,599 348,594 348,597 348,590 348,603 348,598 348,601 348,604 348,600 349,603 349,601 349,594 349,596 349,599 349,598 349,593 349,602 350,600 350,601 350,595 350,599 350,602 350,598 350,583 351,606 351,601 351,598 351,596 351,599 351,597 351,584 351,600 351,595 352,600 352,601 352,599 352,602 352,596 352,587 352,606 353,595 353,604 353,597 353,578 353,599 353,598 353,600 353,605 353,601 354,589 354,600 354,604 354,601 354,597 354,588 354,603 354,596 354,586 354,599 355,603 355,599 355,600 355,601 355,602 355,595 355,597 355,605 355,591 356,603 356,594 356,598 356,600 356,597 356,587 356,599 356,601 357,601 357,596 357,600 357,603 357,606 357,587 358,598 358,600 358,601 358,604 358,603 358,596 378,497 378,512 378,495 378,504 378,502 378,500 378,498 378,493 378,494 379,490 379,500 379,494 379,495 379,502 379,509 379,503 379,497 379,488 379,496 380,507 380,490 380,503 380,502 380,505 380,491 380,501 380,494 380,483 380,495 381,496 381,502 381,501 381,494 381,497 381,499 381,493 382,492 382,497 382,506 382,499 382,502 382,493 382,504 382,484 382,500 383,504 383,502 383,503 383,491 383,492 383,488 383,506 383,511 383,495 384,497 384,499 384,500 384,504 384,494 384,502 384,507 384,501 384,488 385,490 385,501 385,473 385,496 385,493 385,495 385,508 385,497 385,494 386,456 386,500 386,504 386,502 386,490 386,496 386,489 386,505 386,508 386,491 387,496 387,507 387,501 387,492 387,503 387,491 387,495 387,502 388,494 388,499 388,498 388,511 388,486 388,483 388,510 388,496 388,509 388,489 389,498 389,497 389,487 389,492 389,495 389,505 389,501 389,499 389,507 389,488 389,500 390,497 390,490 390,498 390,501 390,503 390,502 390,487 390,496 391,494 391,502 391,500 391,497 391,498 391,503 391,506 391,504 392,502 392,498 392,501 392,495 392,494 392,504 392,499 392,492 392,500 392,489 392,481 393,491 393,500 393,496 393,501 393,516 393,510 393,495 393,506 393,504 393,489 394,497 394,508 394,494 394,502 394,498 394,510 394,503 394,504 395,512 395,490 395,498 395,503 395,504 395,509 395,494 395,497 395,502 395,489 396,497 396,493 396,503 396,494 396,491 396,510 396,495 396,470 397,496 397,494 397,490 397,497 397,499 397,502 397,506 397,517 398,500 398,489 398,498 398,496 398,492 398,494 398,495 398,510 399,500 399,504 399,487 399,494 399,497 399,492 399,491 399,505 400,491 400,494 400,512 400,497 400,502 400,511 400,504 400,492 401,501 401,497 401,507 401,496 401,495 401,505 401,492 401,499 401,500 402,493 402,497 402,490 402,487 402,496 402,509 402,503 402,494 402,502 403,508 403,499 403,495 403,484 403,498 403,489 403,500 403,496 403,488 404,504 404,493 404,506 404,502 404,489 404,494 404,503 404,488 404,490 405,498 405,492 405,508 405,502 405,499 405,493 405,504 405,500 405,503 405,491 406,500 406,487 406,501 406,506 406,494 406,504 406,496 406,508 407,494 407,503 407,482 407,496 407,511 407,505 407,497 407,508 407,500 408,494 408,503 408,493 408,491 408,511 408,497 408,505 408,498 409,492 409,501 409,499 409,497 409,494 409,502 409,510 409,504 410,508 410,497 410,492 410,499 410,498 410,496 410,489 410,490 411,494 411,501 411,493 411,498 411,465 411,505 411,508 411,486 412,495 412,510 412,503 412,502 412,504 412,496 412,489 412,497 412,499 412,501 413,507 413,491 413,501 413,499 413,496 413,500 413,503 413,494 414,494 414,491 414,502 414,501 414,499 414,506 414,492 415,490 415,503 415,476 415,502 415,494 415,488 415,501 415,495 415,498 416,498 416,496 416,499 416,503 416,502 416,509 416,495 417,481 417,484 417,488 417,506 417,494 417,497 417,501 417,500 417,490 418,492 418,511 418,504 418,502 418,499 418,491 418,498 418,496 418,484 419,495 419,501 419,494 419,497 419,510 419,500 419,503 419,508 419,499 420,503 420,504 420,493 420,499 420,488 420,498 420,494 420,492 420,505 420,495 420,511 421,495 421,490 421,491 421,507 421,500 421,485 421,493 421,497 421,511 422,497 422,495 422,510 422,502 422,504 422,503 422,492 422,505 422,496 422,480 423,499 423,506 423,486 423,501 423,504 423,495 423,489 423,498 424,502 424,491 424,486 424,505 424,510 424,504 424,497 424,501 424,499 424,498 424,479 425,491 425,494 425,502 425,500 425,510 425,479 425,501 425,489 425,499 426,500 426,489 426,501 426,495 426,502 426,496 426,492 426,497 426,503 427,500 427,506 427,502 427,505 427,497 427,509 427,490 427,498 427,488 427,501 428,499 428,487 428,495 428,504 428,503 428,494 428,496 428,488 428,485 428,493 428,501 429,502 429,497 429,500 429,498 429,483 429,504 429,496 429,494 429,493 430,503 430,500 430,512 430,490 430,504 430,506 430,509 430,498 430,501 431,490 431,500 431,507 431,497 431,498 431,484 431,495 432,476 432,493 432,490 432,496 432,494 432,508 432,497 432,499 432,498 432,487 433,490 433,500 433,496 433,493 433,498 433,501 433,494 433,492 434,495 434,500 434,503 434,489 434,497 434,491 434,487 434,496 434,501 434,493 434,502 435,497 435,508 435,493 435,487 435,495 435,489 435,501 435,500 435,496 435,503 436,506 436,507 436,499 436,483 436,490 436,497 436,489 436,498 436,503 436,501 437,497 437,515 437,502 437,494 437,488 437,501 437,489 437,490 437,500 437,499 438,491 438,492 438,496 438,498 438,499 438,505 438,497 438,502 438,483 438,490 438,508 439,488 439,498 439,504 439,499 439,497 439,493 439,495 439,484 440,493 440,495 440,497 440,494 440,484 440,490 440,499 440,500 440,491 441,505 441,495 441,498 441,506 441,494 441,491 441,488 441,497 441,501 442,498 442,506 442,503 442,473 442,508 442,495 442,496 442,491 442,502 442,497 443,501 443,498 443,487 443,502 443,506 443,493 443,507 443,496 444,495 444,498 444,493 444,494 444,509 444,496 444,489 444,497 445,507 445,485 445,481 445,486 445,495 445,493 445,499 445,503 445,494 445,498 446,497 446,502 446,498 446,505 446,501 446,508 446,515 446,524 446,513 447,523 447,503 447,515 447,519 447,508 447,518 447,517 447,521 447,513 448,509 448,511 448,516 448,520 448,500 448,517 448,507 448,512 448,518 448,498 449,513 449,518 449,517 449,512 449,516 449,523 450,504 450,516 450,519 450,520 450,517 450,513 450,505 451,513 451,510 451,509 451,508 451,512 451,521 451,527 451,518 451,504 452,524 452,507 452,510 452,509 452,513 452,525 452,517 452,514 452,519 453,521 453,515 453,516 453,499 453,506 453,507 453,509 453,503 453,493 453,488 453,504 454,503 454,477 454,485 454,489 454,484 454,499 454,483 454,493 455,491 455,481 455,488 455,492 455,503 455,484 455,493 455,487 455,477 455,497 456,495 456,490 456,486 456,494 456,491 456,485 456,488 456,497 456,504 457,489 457,501 457,486 457,493 457,494 457,491 457,496 457,484 457,502 457,487 458,478 458,494 458,499 458,490 458,484 458,495 458,488 458,481 458,496 458,491 459,488 459,484 459,493 459,490 459,470 459,496 459,480 459,487 459,494 460,497 460,488 460,487 460,491 460,501 460,492 460,489 460,485 460,496 461,497 461,475 461,498 461,489 461,480 461,492 461,486 461,488 462,486 462,490 462,491 462,495 462,482 462,484 462,494 462,488 462,489 462,503 463,484 463,492 463,479 463,495 463,494 463,489 463,486 463,498 463,491 464,503 464,493 464,490 464,495 464,482 464,502 464,480 464,492 464,477 464,498 465,491 465,504 465,505 465,493 465,490 465,477 465,483 465,502 465,475 465,497 466,517 466,510 466,509 466,506 466,499 466,515 466,519 466,511 467,510 467,527 467,522 467,520 467,521 467,526 467,515 467,528 467,517 467,514 468,516 468,517 468,519 468,512 468,507 468,511 468,503 468,508 468,522 469,510 469,518 469,525 469,517 469,519 469,524 469,495 470,510 470,521 470,519 470,527 470,518 470,511 470,509 470,515 471,510 471,521 471,534 471,515 471,517 471,520 471,509 471,523 471,522 472,520 472,506 472,519 472,523 472,510 472,522 472,517 472,515 472,505 472,521 473,519 473,506 473,526 473,517 473,512 473,524 473,527 473,514 473,491 474,509 474,523 474,518 474,506 474,521 474,524 474,510 474,528 474,516 475,521 475,523 475,524 475,510 475,502 475,522 475,516 475,519 476,519 476,520 476,525 476,511 494,450 494,445 494,452 494,442 494,438 494,444 494,443 494,432 494,440 494,424 495,440 495,437 495,442 495,415 495,430 495,446 495,447 496,449 496,440 496,426 496,439 496,445 496,433 496,448 497,437 497,423 497,446 497,440 497,444 497,442 497,439 497,430 497,443 498,446 498,444 498,443 498,449 498,429 498,445 498,441 498,439 499,449 499,438 499,445 499,442 499,443 499,446 499,440 499,444 499,441 500,437 500,447 500,443 500,444 500,427 500,446 500,423 500,449 501,449 501,445 501,437 501,446 501,438 501,441 501,444 501,440 501,443 502,447 502,442 502,440 502,439 502,438 502,436 502,445 503,442 503,443 503,439 503,447 503,438 503,420 503,441 504,442 504,445 504,438 504,441 504,449 504,443 504,448 504,447 505,438 505,441 505,449 505,443 505,444 505,445 505,448 505,446 506,449 506,445 506,441 506,437 506,439 506,447 506,446 506,448 507,447 507,442 507,430 507,444 507,451 507,438 507,445 507,443 508,433 508,447 508,441 508,448 508,446 508,440 508,439 509,443 509,445 509,447 509,439 509,435 509,441 509,444 509,442 510,432 510,442 510,445 510,437 510,431 510,444 510,440 510,443 511,448 511,449 511,439 511,441 511,445 511,446 511,450 511,443 511,435 512,444 512,443 512,445 512,447 512,437 512,440 512,438 513,438 513,440 513,442 513,448 513,446 513,445 513,444 514,452 514,438 514,442 514,440 514,447 514,450 514,445 514,446 515,447 515,445 515,449 515,431 515,426 515,453 515,448 515,444 516,452 516,450 516,442 516,448 516,439 516,445 516,444 516,440 516,451 517,446 517,447 517,443 517,439 517,445 517,442 517,444 518,448 518,444 518,449 518,441 518,447 518,440 519,444 519,445 519,451 519,446 519,447 519,448 519,443 519,438 520,443 520,444 520,446 520,451 520,426 520,436 520,439 521,443 521,446 521,444 521,438 521,439 521,447 521,445 521,441 522,447 522,449 522,441 522,442 522,450 522,452 522,440 522,445 523,442 523,443 523,444 523,437 523,448 523,441 523,449 523,447 524,446 524,449 524,443 524,439 524,445 524,450 525,451 525,440 525,445 525,432 525,447 525,449 525,433 525,448 526,448 526,438 526,445 526,449 526,444 526,439 526,443 526,440 527,441 527,434 527,448 527,446 527,447 527,445 527,439 527,438 527,433 528,445 528,446 528,451 528,443 528,448 528,444 528,442 528,439 529,448 529,438 529,444 529,446 529,449 530,449 530,445 530,443 530,438 530,452 530,448 530,450 531,445 531,446 531,443 531,444 531,451 532,411 532,441 532,442 532,444 532,447 532,449 532,443 532,448 532,440 533,440 533,447 533,449 533,444 533,428 533,442 533,435 533,451 533,455 534,439 534,444 534,445 534,443 534,448 534,449 535,446 535,447 535,441 535,444 535,432 535,427 535,439 535,448 536,440 536,446 536,453 536,449 536,445 536,444 536,429 537,442 537,449 537,446 537,437 537,440 537,450 537,444 537,447 537,445 538,440 538,446 538,447 538,449 538,444 538,451 538,432 538,442 538,433 539,447 539,449 539,451 539,445 539,442 539,448 539,455 539,446 540,451 540,444 540,432 540,439 540,443 540,442 540,424 540,449 540,448 540,445 541,447 541,442 541,436 541,438 541,429 541,435 541,446 542,445 542,450 542,447 542,432 542,441 542,443 542,449 543,445 543,436 543,446 543,444 543,449 543,450 543,451 543,452 544,425 544,449 544,426 544,448 544,447 544,442 544,450 544,446 544,443 544,441 545,450 545,443 545,437 545,433 545,444 545,445 545,442 545,447 546,439 546,443 546,450 546,445 546,448 546,442 546,449 546,446 547,446 547,448 547,439 547,443 547,444 548,450 548,445 548,451 548,447 548,424 548,437 549,446 549,433 549,443 549,450 549,441 549,445 549,444 550,447 550,445 550,441 550,454 550,448 550,449 550,444 550,442 550,422 551,449 551,451 551,430 551,445 551,448 551,447 551,452 551,444 552,439 552,437 552,442 552,450 552,449 552,426 552,430 552,445 552,447 552,441 553,446 553,440 553,438 553,449 553,450 553,445 553,448 553,431 554,445 554,446 554,444 554,450 554,443 554,447 554,451 554,436 555,445 555,446 555,417 555,444 555,443 555,441 556,447 556,435 556,427 556,442 556,450 556,452 556,446 556,443 557,451 557,448 557,452 557,455 557,447 557,444 557,449 557,442 558,447 558,444 558,438 558,446 558,449 558,430 558,451 558,453 559,424 559,448 559,445 559,451 559,449 559,439 559,454 559,453 559,430 560,446 560,440 560,437 560,444 560,443 560,442 560,451 561,442 561,447 561,451 561,445 561,452 561,443 561,446 561,448 561,449 562,446 562,448 562,443 562,455 562,447 562,449 563,449 563,447 563,456 563,440 563,439 563,445 563,441 563,442 564,443 564,446 564,445 564,449 564,450 564,444 565,446 565,451 565,443 565,447 565,448 565,454 565,445 566,449 566,444 566,451 566,442 566,454 566,446 566,447 566,450 566,453 567,446 567,441 567,438 567,442 567,450 567,448 567,443 568,447 568,446 568,445 568,450 568,452 568,451 569,443 569,450 569,442 569,446 569,441 569,448 570,452 570,442 570,448 570,449 570,446 570,444 570,440 570,445 571,446 571,440 571,447 571,454 571,445 571,443 571,449 572,450 572,452 572,454 572,449 572,445 572,442 572,444 572,446 572,448 573,447 573,442 573,457 573,427 573,453 573,448 573,440 573,449 573,445 573,446 574,455 574,448 574,447 574,446 574,440 574,435 574,449 574,445 574,457 575,448 575,447 575,442 575,452 575,436 575,446 575,444 575,450 576,456 576,455 576,449 576,441 576,445 576,444 576,404 576,454 576,448 576,451 577,441 577,452 577,445 577,448 577,440 577,442 577,449 577,454 578,450 578,444 578,449 578,439 578,446 578,454 578,451 578,453 578,440 579,451 579,443 579,448 579,450 579,452 579,446 579,445 579,455 580,445 580,450 580,444 580,452 580,447 580,451 580,435 580,442 581,443 581,456 581,435 581,444 581,434 581,451 581,449 581,439 581,445 581,453 582,433 582,442 582,452 582,445 582,444 582,431 582,447 582,456 582,448 583,446 583,443 583,450 583,438 583,447 583,451 584,440 584,452 584,450 584,453 584,451 584,442 584,443 584,449 585,443 585,448 585,449 585,447 585,450 585,430 585,438 585,442 586,443 586,445 586,456 586,449 586,453 586,446 586,441 586,444 587,450 587,440 587,453 587,436 587,449 587,448 587,456 587,443 588,429 588,448 588,452 588,450 588,449 588,446 589,450 589,449 589,452 589,447 589,451 589,440 589,454 590,439 590,436 590,443 590,450 590,448 590,446 590,447 590,441 591,446 591,451 591,432 591,454 591,442 591,448 591,449 591,457 591,447 592,446 592,451 592,440 592,449 592,448 592,452 592,444 592,438 593,445 593,452 593,450 593,449 593,453 593,451 593,448 593,447 594,446 594,435 594,451 594,454 594,447 594,427 594,429 594,436 594,438 595,452 595,396 595,449 595,443 595,427 595,446 595,433 595,455 595,447 596,449 596,450 596,448 596,445 596,451 596,452 597,449 597,450 597,446 597,451 597,442 597,447 597,435 598,457 598,449 598,450 598,453 598,442 598,422 598,448 599,448 599,446 599,453 599,436 599,445 599,457 599,432 599,451 599,452 599,450 600,447 600,444 600,454 600,451 600,450 600,458 600,452 600,430 600,449 600,445 601,458 601,452 601,448 601,455 601,457 601,437 601,453 601,427 602,448 602,446 602,454 602,449 602,442 602,452 602,450 602,443 603,448 603,456 603,446 603,452 603,451 603,454 603,443 604,440 604,444 604,454 604,448 604,446 604,449 604,455 604,452 605,455 605,413 605,448 605,445 605,453 605,454 605,449 605,459 606,456 606,430 606,453 606,436 606,449 606,451 606,454 606,459 607,448 607,438 607,453 607,446 607,447 607,450 607,452 607,451 608,446 608,452 608,450 608,456 608,454 608,449 608,451 609,446 609,458 609,443 609,449 609,452 609,454 609,448 610,453 610,451 610,455 610,448 610,449 610,450 610,446 610,444 611,449 611,452 611,447 611,454 611,456 611,440 611,451 611,450 611,446 611,448 612,444 612,450 612,457 612,453 612,432 612,449 612,454 612,451 613,442 613,452 613,457 613,450 613,453 613,449 613,459 614,437 614,450 614,446 614,451 614,452 614,458 614,454 614,457 615,452 615,453 615,454 615,450 615,456 615,449 615,447 616,443 616,456 616,452 616,450 616,454 616,451 616,445 616,449 616,440 617,453 617,445 617,455 617,436 617,452 617,448 617,442 617,450 618,452 618,444 618,456 618,439 618,451 618,449 618,453 618,442 618,458 619,444 619,454 619,451 619,449 619,453 619,443 620,449 620,455 620,452 620,450 620,451 620,454 620,446 620,453 621,449 621,440 621,455 621,436 621,444 621,451 621,443 621,452 621,454 622,451 622,448 622,455 622,452 622,453 622,456 622,450 623,451 623,454 623,428 623,458 623,444 623,461 623,443 623,450 623,455 624,458 624,443 624,440 624,451 624,454 624,437 624,452 624,450 624,453 625,451 625,449 625,461 625,453 625,448 625,450 626,453 626,448 626,449 626,459 626,455 626,451 626,447 626,430 627,453 627,441 627,442 627,446 627,452 627,450 627,447 627,449 628,454 628,451 628,449 628,458 628,456 628,457 628,459 628,448 628,446 628,445 629,441 629,450 629,446 629,436 629,452 629,448 629,457 629,447 629,449 630,457 630,450 630,456 630,448 630,449 630,437 630,452 630,451 631,451 631,448 631,455 631,450 631,449 631,456 631,443 632,453 632,446 632,455 632,449 632,450 632,447 632,428 632,454 632,439 633,448 633,454 633,441 633,446 633,452 633,440 633,455 633,451 634,453 634,452 634,450 634,454 634,455 634,451 634,449 635,449 635,456 635,403 635,457 635,439 635,455 635,440 635,453 636,456 636,451 636,455 636,452 636,449 636,446 636,458 637,460 637,439 637,451 637,440 637,452 637,457 637,443 637,447 637,456 637,454 638,450 638,456 638,451 638,455 638,452 638,454 638,446 638,442 638,448 639,458 639,452 639,454 639,456 639,455 639,459 639,447 640,432 640,447 640,454 640,452 640,453 640,455 640,450 640,439 640,456 640,448 641,450 641,451 641,453 641,462 641,449 641,447 641,454 642,449 642,445 642,450 642,447 642,458 642,453 642,446 642,448 643,447 643,453 643,456 643,445 643,457 643,450 643,455 643,451 643,449 644,446 644,454 644,450 644,452 644,453 644,448 644,458 645,451 645,450 645,448 645,441 645,433 645,462 645,449 645,453 645,440 645,447 646,454 646,450 646,448 646,457 646,451 646,452 646,456 646,449 646,458 646,437 647,457 647,447 647,448 647,443 647,450 647,453 647,461 647,454 647,435 647,446 648,448 648,454 648,453 648,442 648,449 648,451 648,456 648,457 648,455 649,451 649,450 649,457 649,446 649,447 649,440 649,452 649,459 649,448 650,434 650,452 650,451 650,455 650,448 650,454 650,447 650,449 650,450 651,450 651,454 651,449 651,435 651,452 651,448 651,457 652,445 652,450 652,444 652,461 652,452 652,449 652,453 652,454 652,447 653,455 653,452 653,449 653,450 653,442 653,454 653,451 654,449 654,447 654,458 654,448 654,454 654,436 654,453 654,450 654,452 654,456 655,454 655,451 655,449 655,455 655,435 655,437 655,450 655,448 656,458 656,452 656,456 656,451 656,453 656,439 656,454 656,450 656,446 656,434 657,455 657,457 657,452 657,446 657,451 657,448 657,447 657,442 658,452 658,462 658,454 658,453 658,457 658,459 658,448 658,450 658,441 659,452 659,447 659,455 659,445 659,450 659,456 659,448 660,453 660,454 660,451 660,448 660,457 660,443 660,452 661,448 661,456 661,444 661,452 661,458 661,453 662,457 662,455 662,446 662,454 662,452 662,450 662,456 663,453 663,454 663,448 663,451 663,455 663,452 663,449 663,459 664,450 664,453 664,448 664,455 664,457 664,449 664,441 664,444 664,436 665,459 665,446 665,454 665,425 665,455 665,457 665,456 665,449 665,461 666,456 666,449 666,454 666,460 666,451 666,458 666,430 666,441 667,446 667,457 667,441 667,456 667,453 667,455 667,460 668,451 668,458 668,449 668,447 668,450 668,454 668,452 668,455 668,457 669,453 669,452 669,450 669,454 669,434 669,451 669,447 669,427 670,451 670,453 670,447 670,455 670,452 670,443 670,458 670,454 671,463 671,453 671,452 671,450 671,459 671,456 671,458 671,454 671,461 672,448 672,453 672,457 672,447 672,444 672,452 672,450 672,445 672,438 673,459 673,438 673,451 673,453 673,458 673,457 673,454 673,452 673,450 674,454 674,438 674,451 674,456 674,452 674,453 674,448 674,458 675,448 675,457 675,452 675,454 675,455 675,447 675,449 675,458 675,459 675,450 676,459 676,455 676,449 676,452 676,448 676,446 676,456 676,445 676,453 677,453 677,454 677,461 677,455 677,460 677,451 677,456 678,451 678,441 678,437 678,453 678,455 678,454 678,458 678,450 679,446 679,454 679,455 679,457 679,458 679,447 679,453 679,451 680,432 680,456 680,451 680,458 680,454 680,445 680,449 680,450 680,452 681,455 681,450 681,448 681,454 681,444 681,456 681,452 681,458 681,460 682,448 682,456 682,459 682,450 682,453 682,447 682,446 682,458 682,457 683,442 683,453 683,449 683,462 683,419 683,454 683,451 683,452 683,455 684,460 684,450 684,442 684,453 684,455 684,445 684,441 684,451 684,447 684,454 685,453 685,457 685,451 685,448 685,456 685,449 686,455 686,457 686,454 686,452 686,453 686,449 686,451 687,453 687,451 687,458 687,463 687,454 687,456 687,441 688,453 688,457 688,454 688,446 688,452 688,444 688,441 688,438 688,451 688,456 688,458 689,459 689,451 689,461 689,455 689,440 689,460 689,458 689,450 689,453 690,456 690,440 690,445 690,457 690,447 690,450 690,454 690,449 690,460 691,451 691,454 691,446 691,453 691,457 691,463 691,452 691,461 691,455 691,456 692,452 692,455 692,453 692,457 692,456 692,446 693,454 693,458 693,449 693,453 693,452 693,456 693,448 694,454 694,436 694,455 694,450 694,452 694,420 694,457 695,446 695,460 695,450 695,457 695,456 695,461 695,458 695,455 695,449 695,435 696,452 696,454 696,456 696,450 696,432 696,451 696,457 697,448 697,456 697,452 697,440 697,459 697,460 697,449 697,451 698,457 698,454 698,447 698,448 698,452 698,453 698,459 698,456 698,455 699,440 699,450 699,453 699,452 699,454 699,458 699,451 699,449 699,460 700,459 700,453 700,456 700,461 700,457 700,454 700,441 700,458 700,452 701,452 701,461 701,453 701,439 701,449 701,460 701,441 701,457 702,453 702,450 702,460 702,454 702,455 702,443 702,456 702,458 703,457 703,439 703,458 703,456 703,447 703,455 703,454 703,450 704,449 704,455 704,456 704,461 704,452 704,454 704,459 704,447 705,447 705,451 705,453 705,446 705,452 705,458 705,454 705,449 705,460 705,457 706,450 706,455 706,459 706,449 706,457 706,461 706,443 706,453 706,451 707,458 707,457 707,459 707,451 707,456 707,445 707,443 707,454 708,456 708,454 708,441 708,458 708,455 708,460 708,451 708,461 708,449 709,455 709,457 709,451 709,459 709,439 709,456 709,452 709,453 709,460 710,453 710,447 710,451 710,449 710,452 710,454 710,459 710,440 710,443 710,456 711,457 711,451 711,458 711,449 711,450 711,448 711,460 711,456 711,445 712,452 712,454 712,457 712,456 712,445 712,453 712,448 713,460 713,453 713,450 713,454 713,438 713,456 713,446 714,458 714,457 714,455 714,449 714,452 714,463 714,450 714,441 714,443 715,451 715,447 715,449 715,457 715,456 715,458 715,435 715,455 716,454 716,459 716,453 716,450 716,451 716,457 716,449 716,452 717,455 717,462 717,454 717,449 717,460 717,444 717,458 717,437 718,455 718,448 718,449 718,454 718,453 718,450 718,447 718,452 719,445 719,455 719,452 719,458 719,453 719,456 719,464 720,448 720,456 720,455 720,446 720,462 720,458 720,452 720,443 721,456 721,453 721,457 721,441 721,448 721,451 721,454 721,439 721,452 722,456 722,457 722,455 722,460 722,459 722,452 722,446 723,454 723,441 723,450 723,461 723,451 723,455 723,447 724,458 724,439 724,454 724,449 724,456 724,452 724,457 724,453 725,454 725,456 725,455 725,453 725,450 725,445 726,454 726,450 726,453 726,455 726,433 726,458 727,448 727,449 727,454 727,447 727,457 727,460 727,439 727,461 728,450 728,442 728,452 728,445 728,454 728,453 728,456 728,460 729,455 729,457 729,454 729,458 729,450 729,449 729,444 730,446 730,452 730,457 730,448 730,455 730,437 730,454 730,461 731,445 731,455 731,449 731,457 731,443 731,453 731,454 731,452 732,451 732,442 732,457 732,445 732,455 732,456 732,454 732,458 733,461 733,453 733,455 733,458 733,450 733,451 733,452 733,445 733,459 734,449 734,459 734,458 734,427 734,450 734,462 734,455 734,451 734,460 734,445 734,452 735,454 735,452 735,455 735,447 735,457 735,451 735,453 735,459 735,458 736,452 736,453 736,457 736,443 736,459 736,454 737,459 737,455 737,453 737,458 737,452 737,449 737,451 737,454 737,457 738,454 738,459 738,440 738,449 738,456 738,458 738,461 738,455 738,448 739,461 739,454 739,451 739,458 739,460 739,456 739,449 739,453 739,452 740,454 740,455 740,456 740,453 740,458 740,450 741,434 741,447 741,450 741,453 741,456 741,457 741,458 741,455 741,452 742,454 742,452 742,461 742,460 742,462 742,455 742,446 742,445 743,451 743,457 743,458 743,459 743,456 743,454 743,448 743,452 743,460 744,469 744,456 744,455 744,452 744,441 744,453 744,445 744,459 745,450 745,462 745,454 745,445 745,459 745,436 745,452 745,456 745,453 745,455 746,450 746,454 746,437 746,449 746,451 746,455 746,457 746,452 746,444 747,456 747,453 747,449 747,450 747,451 747,461 747,459 747,458 748,450 748,456 748,455 748,454 748,453 748,451 748,457 748,449 749,455 749,457 749,413 749,451 749,454 749,452 749,460 749,453 749,458 749,456 750,449 750,455 750,451 750,440 750,454 750,456 750,459 751,440 751,455 751,450 751,457 751,459 751,451 751,453 751,444 751,418 751,456 751,460 752,449 752,452 752,453 752,463 752,458 752,427 752,451 752,454 753,451 753,455 753,453 753,454 753,442 753,445 753,452 753,456 753,457 754,457 754,449 754,455 754,456 754,452 754,448 754,447 755,451 755,456 755,448 755,460 755,446 755,450 755,455 755,445 755,452 755,457 756,448 756,460 756,455 756,456 756,458 756,459 756,462 756,454 757,465 757,426 757,454 757,456 757,453 757,447 757,461 757,450 758,454 758,458 758,451 758,455 758,461 758,442 758,457 759,456 759,438 759,448 759,455 759,447 759,454 759,452 759,457 760,454 760,448 760,457 760,456 760,453 760,455 760,452 761,454 761,458 761,452 761,457 761,453 761,450 761,449 761,445 762,457 762,451 762,460 762,438 762,459 762,439 762,462 762,455 762,452 762,454 763,452 763,450 763,455 763,457 763,458 763,461 763,451 763,456 763,453 764,444 764,460 764,457 764,451 764,448 764,458 764,456 764,459 765,454 765,437 765,455 765,451 765,452 765,457 765,463 766,450 766,439 766,448 766,451 766,456 766,454 766,452 767,454 767,462 767,455 767,449 767,442 767,448 767,457 767,417 768,457 768,460 768,459 768,449 768,447 768,455 768,436 768,454 768,458 769,455 769,450 769,457 769,459 769,456 769,454 769,444 769,453 770,454 770,450 770,455 770,458 770,453 770,456 770,448 770,462 770,460 771,456 771,455 771,458 771,450 771,448 771,457 771,447 771,453 771,461 772,449 772,442 772,458 772,459 772,457 772,452 772,444 772,455 772,462 772,445 773,457 773,453 773,455 773,454 773,445 773,442 773,431 773,456 774,457 774,452 774,458 774,453 774,455 774,454 774,450 774,460 774,456 775,454 775,452 775,448 775,453 775,445 775,456 775,457 775,458 775,443 775,463 776,458 776,456 776,449 776,454 776,447 776,464 776,450 777,454 777,457 777,455 777,437 777,453 777,451 778,456 778,467 778,459 778,452 778,449 778,457 778,460 778,455 779,450 779,445 779,440 779,453 779,454 779,451 779,457 779,456 780,454 780,451 780,461 780,429 780,453 780,452 780,456 780,455 781,449 781,452 781,459 781,450 781,457 781,456 781,461 782,458 782,449 782,445 782,457 782,450 782,455 782,459 782,456 782,439 782,454 783,463 783,457 783,452 783,458 783,467 783,427 783,459 784,452 784,456 784,461 784,457 784,451 784,458 784,460 784,454 785,455 785,453 785,454 785,458 785,437 785,461 785,448 786,455 786,452 786,449 786,460 786,453 786,456 786,451 786,434 786,454 786,464 787,450 787,445 787,429 787,460 787,453 787,455 787,459 787,454 787,452 787,448 788,453 788,458 788,454 788,459 788,451 788,452 788,455 788,456 789,453 789,457 789,449 789,454 789,448 789,455 789,437 790,458 790,451 790,462 790,457 790,459 790,449 790,456 790,452 791,452 791,446 791,457 791,453 791,458 791,444 791,435 791,451 792,457 792,456 792,454 792,433 792,455 792,453 792,443 792,451 792,449 793,454 793,460 793,456 793,455 793,442 793,445 793,462 794,453 794,462 794,447 794,448 794,456 794,454 794,440 794,457 795,449 795,448 795,454 795,442 795,455 795,456 795,453 795,444 795,459 796,453 796,452 796,450 796,459 796,440 796,458 796,455 796,448 797,441 797,453 797,456 797,459 797,458 797,455 797,450 797,454 798,461 798,449 798,455 798,450 798,453 798,458 798,457 798,445 798,456 798,454 799,452 799,456 799,448 799,460 799,455 799,451 799,453 799,446 799,447 800,453 800,463 800,459 800,454 800,455 800,451 800,458 800,456 800,450 801,457 801,455 801,458 801,447 801,445 801,464 801,452 801,453 801,456 802,454 802,445 802,455 802,456 802,458 802,451 802,459 803,460 803,457 803,454 803,450 803,461 803,456 803,449 804,461 804,454 804,452 804,456 804,457 804,455 804,449 804,453 804,459 805,458 805,461 805,450 805,456 805,449 805,460 805,454 806,459 806,453 806,455 806,460 806,457 806,456 806,452 806,454 807,461 807,458 807,453 807,460 807,450 807,459 807,457 807,454 807,452 808,449 808,436 808,444 808,454 808,456 808,460 808,461 808,459 808,451 808,450 808,457 809,429 809,450 809,455 809,459 809,461 809,457 809,452 809,424 809,460 810,456 810,458 810,457 810,455 810,460 810,453 810,445 811,464 811,441 811,454 811,459 811,456 811,458 811,453 811,455 812,457 812,459 812,460 812,453 812,451 812,434 812,461 812,456 813,458 813,444 813,457 813,455 813,461 813,453 813,454 813,462 814,459 814,454 814,458 814,460 814,439 814,462 814,456 814,452 815,451 815,449 815,436 815,458 815,456 815,457 815,462 815,453 815,438 816,441 816,452 816,456 816,447 816,464 816,454 816,453 816,457 817,452 817,462 817,460 817,461 817,459 817,449 817,445 817,451 817,455 817,450 818,452 818,448 818,456 818,462 818,453 818,449 818,455 818,454 819,450 819,447 819,448 819,453 819,455 819,454 819,457 819,459 820,462 820,458 820,456 820,454 820,459 820,457 820,455 820,451 821,441 821,456 821,453 821,466 821,459 821,446 821,457 821,450 821,448 821,458 822,449 822,455 822,456 822,458 822,453 822,460 822,447 823,458 823,454 823,429 823,456 823,455 823,460 823,457 823,453 824,448 824,451 824,445 824,456 824,457 824,454 824,444 824,460 824,446 825,455 825,452 825,446 825,454 825,462 825,459 825,460 825,456 826,429 826,417 826,456 826,455 826,452 826,458 826,457 826,454 826,450 826,453 827,455 827,452 827,448 827,454 827,451 827,462 827,449 827,456 828,453 828,430 828,454 828,455 828,457 828,449 828,460 829,454 829,451 829,457 829,455 829,446 829,453 829,458 829,461 830,453 830,450 830,446 830,468 830,457 830,458 830,461 830,460 830,435 831,455 831,454 831,456 831,457 831,451 831,460 831,458 832,445 832,451 832,457 832,458 832,455 832,453 832,461 832,431 832,454 832,460 833,460 833,459 833,452 833,455 833,454 833,457 834,456 834,458 834,454 834,460 834,462 834,459 835,455 835,459 835,460 835,450 835,457 835,456 835,452 835,454 836,454 836,458 836,444 836,453 836,457 836,450 836,451 837,445 837,455 837,452 837,450 837,458 837,451 837,459 837,449 837,462 838,440 838,452 838,451 838,453 838,460 838,456 838,458 838,449 839,467 839,456 839,455 839,459 839,454 839,453 839,451 839,445 839,452 840,455 840,457 840,459 840,450 840,439 840,458 840,452 840,465 840,447 841,451 841,457 841,456 841,460 841,438 841,454 841,448 841,455 841,458 841,445 842,452 842,459 842,455 842,445 842,461 842,435 842,458 842,457 842,454 842,449 843,452 843,456 843,455 843,457 843,444 843,461 843,449 844,458 844,456 844,460 844,457 844,445 844,454 844,455 844,453 844,464 845,453 845,462 845,456 845,452 845,457 845,459 845,455 845,449 845,458 846,456 846,447 846,452 846,444 846,442 846,459 846,461 846,455 846,460 846,463 847,451 847,452 847,462 847,457 847,454 847,453 847,461 847,456 847,448 847,458 847,450 848,449 848,457 848,459 848,451 848,455 848,454 848,440 849,458 849,440 849,451 849,450 849,461 849,459 849,445 849,443 850,457 850,443 850,450 850,466 850,462 850,453 850,460 850,465 850,458 851,462 851,452 851,458 851,456 851,450 851,457 851,453 851,455 851,448 852,452 852,430 852,441 852,458 852,453 852,460 852,459 852,450 852,457 853,454 853,451 853,461 853,460 853,457 853,441 853,455 853,456 854,455 854,452 854,450 854,451 854,453 854,456 854,444 855,442 855,457 855,452 855,456 855,454 855,453 855,458 855,460 855,455 856,456 856,461 856,441 856,452 856,457 856,455 856,458 856,454 856,459 856,448 857,459 857,458 857,450 857,455 857,467 857,438 857,452 857,457 858,448 858,459 858,452 858,455 858,457 858,453 858,451 858,445 858,458 858,435 859,459 859,457 859,461 859,460 859,463 860,463 860,452 860,456 860,454 860,450 861,456 861,459 861,454 861,457 861,458 861,452 861,448 861,455 861,460 862,463 862,451 862,458 862,459 862,457 862,456 862,450 862,445 863,459 863,460 863,444 863,465 863,452 863,456 863,449 863,457 863,423 864,454 864,456 864,459 864,447 864,450 864,462 864,453 864,448 864,463 865,462 865,459 865,457 865,458 865,446 865,450 865,461 865,464 865,455 866,456 866,457 866,448 866,446 866,461 866,460 866,450 866,459 866,454 867,455 867,432 867,456 867,461 867,451 867,460 867,454 868,459 868,464 868,437 868,456 868,454 868,460 868,457 868,455 869,454 869,445 869,456 869,455 869,453 869,451 870,456 870,444 870,455 870,457 870,453 870,454 870,458 871,460 871,440 871,448 871,452 871,455 871,454 871,457 871,462 871,433 871,444 872,454 872,460 872,452 872,453 872,455 872,462 872,456 872,459 872,451 873,449 873,461 873,462 873,454 873,448 873,457 873,444 874,464 874,456 874,450 874,458 874,454 874,455 874,457 874,459 875,455 875,422 875,456 875,459 875,457 875,452 876,448 876,455 876,460 876,461 876,449 876,453 876,454 877,457 877,458 877,451 877,454 877,450 877,447 877,448 877,455 877,445 877,460 878,453 878,462 878,461 878,457 878,455 878,446 879,453 879,444 879,457 879,454 879,455 879,462 879,465 879,450 879,456 880,453 880,459 880,454 880,436 880,460 880,457 880,445 880,438 880,443 881,455 881,457 881,458 881,443 881,453 881,459 881,456 882,457 882,459 882,454 882,453 882,463 882,456 883,446 883,462 883,459 883,457 883,464 883,455 883,458 883,453 883,442 883,456 884,460 884,450 884,462 884,454 884,451 884,458 884,457 884,437 885,450 885,455 885,454 885,461 885,435 885,458 885,452 885,451 885,453 886,459 886,457 886,462 886,452 886,446 886,453 886,434 886,458 886,460 886,447 887,453 887,458 887,446 887,460 887,459 887,463 887,455 887,452 888,458 888,456 888,452 888,450 888,457 888,453 889,447 889,460 889,455 889,437 889,454 889,458 889,459 889,450 890,447 890,451 890,452 890,457 890,458 890,454 890,455 890,463 890,441 891,456 891,452 891,435 891,461 891,464 891,451 891,455 891,437 892,450 892,458 892,456 892,454 892,465 892,453 892,457 892,464 892,463 892,445 893,451 893,445 893,455 893,461 893,449 893,459 893,452 893,458 893,460 894,458 894,459 894,463 894,451 894,460 894,457 894,449 894,467 895,459 895,452 895,464 895,455 895,456 895,458 895,451 895,460 895,446 896,450 896,460 896,457 896,454 896,447 896,440 896,453 896,459 896,455 897,457 897,458 897,454 897,450 897,443 897,455 897,449 897,453 898,454 898,445 898,463 898,457 898,460 898,458 898,459 898,441 898,453 899,414 899,449 899,454 899,458 899,452 899,456 899,457 899,462 899,451 899,459 900,457 900,451 900,455 900,456 900,463 900,452 900,438 900,454 901,456 901,452 901,458 901,453 901,440 901,460 901,457 901,447 902,458 902,464 902,457 902,447 902,450 902,449 902,454 902,456 903,457 903,452 903,460 903,438 903,455 903,463 903,456 903,443 903,447 904,460 904,459 904,456 904,450 904,455 904,447 904,457 905,456 905,457 905,462 905,449 905,459 905,453 905,448 905,461 906,457 906,441 906,453 906,461 906,458 906,456 907,451 907,456 907,459 907,454 907,458 907,437 907,455 907,429 907,445 908,464 908,460 908,454 908,456 908,452 908,449 908,455 909,453 909,460 909,454 909,455 909,456 909,450 909,442 909,435 910,452 910,458 910,459 910,446 910,454 910,451 910,464 910,462 910,450 911,456 911,460 911,458 911,452 911,459 911,454 911,448 911,447 912,457 912,441 912,459 912,455 912,452 912,450 912,463 912,453 912,440 912,460 913,455 913,454 913,457 913,460 913,453 913,458 913,459 914,461 914,457 914,454 914,463 914,449 914,458 914,452 914,462 915,452 915,440 915,453 915,460 915,456 915,459 915,463 916,453 916,454 916,459 916,460 916,456 916,452 916,457 916,448 917,452 917,465 917,453 917,454 917,464 917,448 917,459 917,456 918,455 918,456 918,454 918,459 918,451 918,460 918,452 918,445 918,461 918,422 919,451 919,454 919,447 919,442 919,456 919,463 919,455 164,490 181,512 131,530 152,531 156,531 203,532 218,524 218,537 230,534 137,547 179,558 217,560 199,564 234,565 139,570 189,570 193,570 223,568 134,581 144,588 208,578 171,582 300,417 285,447 262,486 251,512 253,513 277,534 357,459 350,537 357,540 250,548 267,553 280,557 291,556 301,556 315,557 327,555 335,557 266,563 288,563 249,569 306,572 327,574 336,573 263,577 301,570 189,145 222,289 381,389 382,414 391,448 413,441 357,458 351,536 358,540 361,526 409,244 423,221 458,443 408,468 394,472 403,472 447,469 455,472 433,475 476,494 459,443 561,115 627,154 523,180 514,250 855,70 858,113 830,185 794,194 822,216 770,221 807,225 892,251 572,267 537,301 559,298 636,320 508,331 538,329 604,331 537,343 550,342 580,354 647,362 581,375 601,373 508,381 523,380 527,386 537,382 541,389 562,385 494,390 582,393 554,400 569,400 575,403 601,404 635,402 557,410 591,411 619,411 524,414 533,417 629,415 639,416 504,419 548,421 572,422 576,423 596,422 607,422 622,423 633,424 530,421 737,298 755,299 758,321 803,320 754,331 666,346 771,347 658,357 741,355 710,366 744,369 661,381 761,379 797,379 710,388 713,388 797,390 657,399 666,402 676,401 747,398 772,406 782,404 656,412 686,411 728,410 667,417 676,418 684,420 795,420 715,425 732,423 745,421 764,426 773,423 780,422 786,423 665,423 691,423 808,417 833,299 840,315 860,366 860,369 820,369 820,372 836,372 832,380 865,382 817,398 894,399 813,415 884,414 843,416 824,418 873,416 875,418 896,422 907,421 847,424 808,423 886,426 857,429 836,430 820,431 366,115 364,154 369,166 370,171 364,247 369,182 369,188 369,192 369,198 369,200 370,202 370,210 370,219 369,221 369,229 369,234 370,284 370,286 369,298 370,306 369,308 369,311 370,314 369,317 370,330 370,333 370,335 370,338 371,343 368,348 370,352 370,354 371,358 370,362 370,364 370,367 369,369 370,375 371,379 369,385 371,391 371,394 371,396 369,400 368,403 371,408 369,412 370,417 369,421 370,424 369,429 370,433 368,437 369,442 371,447 369,452 370,455 371,460 368,465 369,468 369,473 371,476 369,479 370,485 368,489 368,495 371,497 369,502 371,504 370,509 370,513 369,518 371,520 369,523 369,527 371,530 370,535 368,539 369,541 368,547 368,551 370,553 370,558 367,562 366,566 365,570 366,573 366,579 366,582 366,585 366,588 366,592 365,596 365,598 479,106 487,152 479,122 479,127 478,131 480,134 481,136 480,140 480,144 480,150 478,155 481,158 482,166 479,169 481,172 480,174 479,176 481,179 483,182 483,183 483,186 484,189 484,192 483,195 481,198 483,199 482,200 483,202 481,204 485,207 485,209 484,213 484,216 485,219 484,221 483,224 483,226 485,228 485,230 486,232 485,234 485,238 484,240 484,243 483,246 486,249 484,252 484,256 484,258 485,261 486,262 485,264 483,268 487,269 483,270 484,273 486,276 484,279 484,282 483,284 484,286 486,288 487,291 485,293 485,295 483,298 486,301 485,303 487,306 485,308 486,311 484,314 487,318 486,320 486,321 486,322 488,325 488,328 488,330 486,334 487,336 487,339 487,341 490,344 489,346 490,349 489,351 490,354 487,357 490,359 487,360 490,363 490,366 490,369 491,370 487,372 489,374 492,376 489,377 489,381 490,382 490,386 491,389 492,390 492,392 490,394 492,396 490,398 489,401 490,404 493,408 490,410 493,412 490,414 493,417 491,418 490,422 494,423 494,427 491,428 491,430 491,432 492,435"/>
<polyline fill="none" stroke="none" marker-start="url(#mo)" marker-mid="url(#mo)" marker-end="url(#mo)" points="131,647 131,649 131,650 131,653 131,644 132,644 132,647 132,649 132,651 132,648 132,650 132,645 132,652 133,649 133,650 133,652 133,654 133,655 134,649 134,647 134,654 134,651 134,648 134,652 134,655 134,656 135,650 135,651 135,649 135,654 135,646 135,652 136,652 136,656 136,648 136,655 136,651 136,657 136,650 137,653 137,651 137,652 137,650 137,649 138,651 138,652 138,654 138,656 138,650 138,648 138,653 139,652 139,656 139,657 139,653 139,654 139,655 139,648 139,651 140,651 140,650 140,655 140,653 140,652 140,656 140,649 140,646 141,654 141,651 141,653 141,652 141,650 141,649 142,657 142,655 142,654 142,651 142,646 142,653 142,649 142,650 142,652 143,652 143,654 143,655 143,656 143,650 143,648 143,660 144,650 144,654 144,652 144,653 144,655 144,656 144,660 145,653 145,650 145,652 145,656 145,657 145,649 145,651 146,656 146,654 146,653 146,647 147,653 147,654 147,660 147,655 147,651 147,657 147,648 148,648 148,652 148,657 148,655 148,656 148,654 148,653 148,649 148,651 149,649 149,653 149,655 149,656 149,654 150,652 150,648 150,654 150,647 150,649 150,651 150,655 150,653 151,651 151,657 151,650 151,655 151,653 151,652 151,654 151,658 152,656 152,659 152,655 152,657 152,651 152,652 152,653 153,653 153,652 153,651 153,659 153,655 153,654 153,650 154,652 154,647 154,655 154,658 154,649 154,659 154,651 154,656 154,648 155,647 155,651 155,653 155,649 155,660 155,654 155,657 156,656 156,651 156,654 156,652 156,653 156,657 156,655 157,652 157,649 157,651 157,659 157,655 157,656 157,654 158,650 158,657 158,656 158,653 158,659 158,649 158,654 159,650 159,654 159,651 159,649 159,655 159,653 160,650 160,652 160,654 160,657 160,653 160,656 160,655 160,651 161,653 161,655 161,651 161,648 161,654 161,659 161,657 161,650 162,654 162,653 162,659 162,656 163,652 163,658 163,653 163,659 163,654 163,650 163,655 164,654 164,652 164,655 164,651 164,659 164,650 164,649 165,655 165,653 165,652 165,650 165,648 165,654 165,656 166,651 166,653 166,652 166,655 166,650 166,656 166,654 166,660 167,656 167,655 167,653 167,651 167,650 168,645 168,640 168,643 168,641 168,634 169,643 169,640 169,641 169,636 169,635 169,646 169,639 170,639 170,640 170,645 170,642 170,637 170,641 171,643 171,638 171,642 171,635 171,640 171,634 171,648 171,641 172,643 172,642 172,638 172,637 172,644 172,633 172,648 173,640 173,645 173,639 173,637 173,634 173,642 173,644 173,641 174,646 174,642 174,640 174,641 174,638 174,639 174,644 175,644 175,640 175,639 175,641 175,638 175,642 175,634 176,640 176,644 176,634 176,642 176,641 176,637 176,639 176,636 176,646 177,635 177,647 177,638 177,641 177,640 177,642 177,646 177,643 177,637 178,639 178,643 178,644 178,638 178,631 178,646 178,642 178,645 179,639 179,638 179,641 179,646 179,640 179,644 179,637 180,645 180,638 180,641 180,646 180,642 180,648 181,640 181,631 181,637 181,639 181,643 181,642 182,647 182,640 182,642 182,636 182,635 182,639 182,637 183,640 183,637 183,638 183,644 183,643 183,639 183,635 183,645 184,642 184,641 184,648 184,636 184,639 184,640 185,644 185,641 185,637 185,640 185,638 185,643 185,636 185,642 186,642 186,633 186,644 186,640 186,641 186,637 186,649 186,639 187,638 187,648 187,640 187,643 187,633 187,639 187,642 188,645 188,641 188,640 188,637 188,636 188,644 188,639 188,642 188,638 189,640 189,636 189,638 189,643 189,645 189,642 189,635 189,639 189,641 190,641 190,647 190,640 190,637 190,642 190,645 190,639 191,636 191,641 191,638 191,634 191,642 191,643 191,639 192,637 192,642 192,638 192,641 193,643 193,639 193,637 193,642 193,632 193,636 193,641 193,640 194,641 194,639 194,646 194,640 194,644 194,638 194,637 194,647 195,647 195,636 195,642 195,639 195,645 195,640 195,644 196,643 196,639 196,638 196,636 196,641 196,642 196,634 196,640 196,644 197,634 197,640 197,635 197,639 197,642 197,641 197,643 197,638 198,642 198,636 198,639 198,644 198,637 198,640 198,638 198,643 199,639 199,638 199,643 199,642 199,640 200,631 200,643 200,640 200,639 200,644 200,645 200,642 201,639 201,641 201,643 201,642 201,640 201,638 201,646 202,645 202,637 202,639 202,641 202,643 202,640 202,638 203,644 203,642 203,640 203,641 203,639 203,633 203,637 203,638 204,642 204,644 204,635 204,641 204,646 204,636 204,633 204,638 204,643 204,640 205,640 205,641 205,638 205,642 205,636 205,647 205,644 206,639 206,638 206,646 206,642 206,634 206,641 206,640 206,645 206,647 207,639 207,640 207,644 207,643 207,642 207,634 207,641 208,637 208,643 208,634 208,648 208,644 208,638 208,640 208,641 208,636 208,646 209,639 209,641 209,642 209,643 209,640 209,635 209,644 209,645 210,643 210,635 210,638 210,644 210,640 210,641 210,645 211,644 211,641 211,640 211,642 211,637 212,641 212,637 212,635 212,636 212,639 212,646 212,642 213,644 213,639 213,645 213,646 213,641 213,647 213,638 214,635 214,643 214,642 214,639 214,645 214,641 215,637 215,642 215,641 215,643 215,640 215,638 216,645 216,638 216,639 216,642 216,637 216,646 216,636 217,638 217,642 217,639 217,641 217,640 217,637 217,643 218,643 218,638 218,644 218,642 218,637 218,636 218,639 219,637 219,639 219,638 219,642 219,644 219,641 219,648 219,643 220,642 220,634 220,643 220,635 220,647 220,636 220,646 220,639 220,645 221,637 221,641 221,647 221,642 221,638 222,643 222,641 222,642 222,640 222,635 222,639 222,638 223,643 223,644 223,646 223,648 223,636 223,640 223,645 223,638 224,641 224,638 224,639 224,647 224,646 224,637 224,640 225,642 225,636 225,641 225,640 225,645 225,638 225,643 226,639 226,646 226,641 226,642 226,645 226,643 226,640 227,641 227,639 227,640 227,642 227,637 228,640 228,635 228,642 228,638 228,647 228,637 228,645 228,639 229,640 229,639 229,644 229,645 229,636 229,638 229,637 229,635 229,643 230,645 230,640 230,642 230,641 230,637 230,646 230,639 231,642 231,645 231,640 231,639 231,636 231,641 231,638 231,649 232,642 232,640 232,647 232,644 232,638 232,643 232,645 233,642 233,646 233,641 233,639 233,640 233,633 233,637 233,645 233,638 234,637 234,641 234,643 234,644 234,633 234,638 234,639 234,640 235,631 235,639 235,641 235,635 235,643 235,640 236,636 236,637 236,642 236,644 236,646 236,641 236,640 237,640 237,641 237,637 237,645 237,639 237,642 237,643 238,641 238,643 238,648 238,642 238,640 238,639 238,645 238,637 238,638 238,644 239,640 239,642 239,641 239,637 239,639 239,647 239,638 239,645 240,645 240,633 240,639 240,638 240,640 240,642 240,646 240,637 241,641 241,640 241,635 241,639 241,645 241,644 242,637 242,642 242,638 242,641 242,639 242,640 242,643 242,645 242,646 243,641 243,645 243,642 243,649 243,636 243,644 243,640 243,639 244,639 244,643 244,638 244,634 244,635 245,643 245,639 245,647 245,644 245,638 245,646 245,636 246,641 246,636 246,640 246,646 246,639 246,642 246,637 247,638 247,644 247,641 247,645 247,640 247,646 247,643 247,642 248,643 248,645 248,636 248,635 248,639 248,644 248,640 249,645 249,641 249,646 249,642 249,640 249,649 249,639 249,638 250,641 250,636 250,643 250,637 250,642 250,638 250,644 251,634 251,643 251,646 251,640 251,644 251,639 251,636 251,641 251,635 252,641 252,644 252,638 252,645 252,639 252,643 252,642 253,640 253,638 253,644 253,643 253,642 253,641 254,640 254,638 254,646 254,645 254,636 254,639 254,643 255,643 255,644 255,641 255,648 255,640 255,642 255,645 255,635 256,634 256,643 256,640 256,639 256,642 256,637 256,641 257,638 257,641 257,644 257,643 257,640 257,647 257,642 257,646 258,638 258,642 258,634 258,645 258,641 258,639 258,643 259,641 259,639 259,644 259,634 259,648 259,635 259,643 259,640 259,642 260,643 260,641 260,638 260,639 260,642 260,646 261,641 261,647 261,636 261,638 261,644 261,639 261,642 262,644 262,642 262,639 262,638 262,643 262,637 262,646 263,641 263,640 263,642 263,646 263,639 263,643 263,644 264,640 264,644 264,637 264,639 264,642 264,649 265,638 265,641 265,643 265,640 266,641 266,643 266,640 266,644 266,646 266,638 266,642 267,636 267,642 267,639 267,641 267,640 267,638 267,643 267,644 268,636 268,643 268,639 268,642 268,638 268,640 268,641 269,643 269,641 269,644 269,640 269,633 269,636 269,642 269,637 270,644 270,643 270,639 270,642 270,638 270,640 271,642 271,639 271,636 271,637 271,634 271,645 271,644 271,631 272,641 272,636 272,645 272,642 272,650 272,640 272,643 272,647 272,644 273,641 273,645 273,638 273,639 273,640 273,642 273,636 274,640 274,647 274,639 274,642 274,641 274,637 275,641 275,639 275,636 275,640 275,638 275,646 275,637 275,644 275,642 275,633 276,637 276,640 276,641 276,647 276,649 276,639 276,642 276,636 276,644 277,638 277,644 277,632 277,642 277,647 277,643 277,640 277,641 277,635 278,643 278,641 278,634 278,639 278,642 278,645 279,640 279,642 279,639 279,646 279,644 280,639 280,644 280,643 280,632 280,642 280,641 280,634 280,640 281,637 281,648 281,644 281,641 281,638 281,643 281,646 282,641 282,640 282,643 282,637 282,639 282,644 282,642 282,645 283,642 283,637 283,641 283,640 283,643 283,638 283,634 284,642 284,640 284,639 284,641 284,643 284,646 284,638 284,644 285,644 285,638 285,642 285,640 285,637 285,643 285,639 286,643 286,642 286,646 286,645 286,639 286,641 286,640 287,640 287,642 287,645 287,638 287,643 287,644 287,637 288,641 288,642 288,638 288,640 288,636 288,639 288,643 288,645 289,651 289,639 289,640 289,644 289,642 289,636 289,641 289,631 290,638 290,642 290,644 290,639 290,646 290,637 290,641 290,640 291,644 291,639 291,640 291,636 291,643 291,641 292,643 292,640 292,637 292,644 292,642 292,639 293,644 293,640 293,639 293,641 293,642 293,645 293,637 294,647 294,644 294,643 294,640 294,638 294,641 294,637 294,642 295,641 295,644 295,639 295,635 295,637 295,642 295,638 295,643 296,637 296,646 296,644 296,642 296,638 296,640 296,636 296,641 297,637 297,641 297,636 297,642 297,648 297,640 298,638 298,635 298,643 298,641 298,640 298,639 298,644 298,642 299,645 299,640 299,636 299,637 299,643 299,648 299,639 300,645 300,641 300,638 300,636 300,642 300,643 300,637 300,646 301,644 301,643 301,635 301,638 301,637 301,641 301,640 302,635 302,640 302,641 302,642 302,645 302,638 302,646 302,643 303,636 303,642 303,639 303,640 303,643 303,635 303,644 304,644 304,640 304,642 304,634 304,641 304,638 304,645 304,649 305,639 305,637 305,642 305,640 305,641 305,638 305,633 305,643 306,640 306,645 306,647 306,644 306,642 306,641 306,643 306,638 306,637 307,643 307,644 307,647 307,645 307,641 307,638 307,646 308,644 308,641 308,643 308,638 308,642 308,637 309,633 309,641 309,638 309,645 309,639 309,643 309,642 309,646 310,643 310,640 310,646 310,635 310,644 310,637 310,641 310,638 310,648 310,645 311,639 311,643 311,636 311,641 311,640 312,640 312,641 312,642 312,643 312,639 312,646 312,638 313,643 313,647 313,637 313,642 313,644 313,639 313,634 313,646 314,636 314,641 314,643 314,640 314,637 314,639 315,634 315,640 315,641 315,643 315,635 315,638 315,636 316,635 316,640 316,639 316,636 316,643 316,642 316,644 316,641 317,634 317,640 317,642 317,639 317,641 317,643 317,638 318,643 318,641 318,640 318,637 318,639 318,635 318,642 319,640 319,643 319,642 319,639 319,638 319,647 319,641 319,644 320,636 320,641 320,644 320,640 321,645 321,641 321,639 321,640 321,642 321,636 321,648 321,644 322,641 322,642 322,639 322,644 322,640 323,638 323,640 323,643 323,644 323,647 323,635 323,639 324,637 324,642 324,641 324,645 324,644 324,636 324,640 324,650 324,643 324,646 325,638 325,640 325,645 325,639 325,646 325,637 325,643 325,641 326,640 326,643 326,642 326,637 326,647 326,646 326,638 327,648 327,642 327,647 327,640 327,643 327,641 327,632 327,646 328,636 328,634 328,644 328,640 328,646 328,639 328,641 328,638 328,643 329,639 329,644 329,643 329,641 329,645 329,640 330,642 330,643 330,634 330,641 330,640 330,639 331,642 331,635 331,641 331,640 331,644 331,634 331,638 332,642 332,640 332,638 332,644 332,645 332,639 332,636 333,644 333,641 333,645 333,639 333,640 333,642 334,642 334,639 334,640 334,644 334,643 334,645 335,635 335,632 335,637 335,638 335,645 335,641 335,639 336,641 336,644 336,640 336,646 336,643 336,639 336,637 336,635 337,643 337,642 337,641 337,644 337,640 337,638 337,639 338,645 338,635 338,634 338,644 338,642 338,640 338,641 338,643 338,637 339,638 339,642 339,640 339,643 339,651 339,645 339,636 340,642 340,636 340,641 340,640 340,647 340,643 340,639 340,638 341,636 341,642 341,640 341,641 341,646 342,642 342,646 342,640 342,643 342,644 342,638 342,633 342,639 343,638 343,641 343,643 343,642 343,640 343,639 344,641 344,638 344,640 344,648 344,647 344,644 344,642 345,639 345,638 345,640 345,637 345,644 345,635 345,646 345,636 346,641 346,644 346,643 346,638 346,633 346,642 346,639 346,646 347,637 347,648 347,641 347,638 347,644 347,645 347,635 347,642 347,643 347,639 347,640 348,645 348,643 348,646 348,636 348,637 348,640 348,639 349,639 349,640 349,645 349,641 349,646 349,644 349,638 349,650 350,638 350,641 350,643 350,640 350,644 350,639 351,646 351,645 351,640 351,643 351,644 351,639 351,637 352,639 352,641 352,645 352,642 352,647 352,638 352,637 352,644 352,640 353,640 353,643 353,641 353,646 353,644 353,642 353,637 354,638 354,640 354,644 354,642 354,641 354,639 354,643 355,649 355,642 355,641 355,644 355,639 355,647 355,638 355,645 356,644 356,641 356,638 356,642 356,645 356,636 356,640 356,639 357,639 357,641 357,640 357,645 357,643 357,638 357,644 358,639 358,647 358,642 358,643 358,641 358,645 358,640 359,643 359,645 359,640 359,642 359,639 359,641 359,650 360,642 360,639 360,640 360,638 360,646 360,643 360,632 361,644 361,638 361,640 361,643 361,641 361,639 361,645 361,642 362,641 362,644 362,642 362,636 362,638 362,640 362,646 362,637 362,639 363,641 363,639 363,644 363,643 363,651 366,555 366,558 366,573 366,568 366,571 366,560 367,569 367,576 367,570 367,577 367,564 367,568 367,567 367,562 368,579 368,573 368,572 368,571 368,565 368,575 368,567 368,569 369,566 369,576 369,568 369,558 369,572 369,569 369,573 369,575 370,575 370,569 370,577 370,570 370,574 370,559 370,564 370,572 370,568 371,576 371,567 371,573 371,562 371,574 371,565 371,570 371,564 371,569 372,573 372,565 372,572 372,567 372,564 372,571 372,575 372,577 372,569 373,571 373,558 373,569 373,577 373,567 373,563 373,568 373,574 374,561 374,577 374,569 374,560 374,566 374,564 374,563 374,574 374,579 375,580 375,562 375,566 375,581 375,575 375,564 375,563 375,556 375,571 375,570 376,562 376,559 376,568 376,564 376,563 376,569 376,577 376,567 376,572 376,574 377,569 377,571 377,570 377,572 377,576 377,574 377,568 377,566 377,578 378,574 378,585 378,576 378,569 378,571 378,566 378,583 378,563 378,572 379,574 379,566 379,572 379,570 379,569 379,573 379,575 379,561 380,569 380,572 380,581 380,571 380,573 380,561 380,579 380,563 380,580 380,567 381,568 381,564 381,573 381,570 381,563 381,566 381,576 381,584 382,561 382,574 382,570 382,565 382,576 382,572 382,567 382,571 382,577 383,571 383,570 383,561 383,564 383,575 383,563 383,555 383,574 383,573 384,574 384,564 384,569 384,567 384,572 384,570 384,558 385,579 385,566 385,571 385,575 385,573 385,570 385,584 385,572 386,571 386,563 386,579 386,572 386,565 386,564 386,569 387,567 387,560 387,552 387,562 387,564 387,570 387,572 387,575 387,573 387,563 388,563 388,561 388,570 388,564 388,582 388,573 388,567 388,565 388,571 389,562 389,570 389,560 389,564 389,565 389,577 389,573 389,571 389,568 390,572 390,571 390,567 390,580 390,566 390,568 390,570 390,561 391,573 391,559 391,575 391,572 391,577 391,565 391,562 391,569 391,557 392,579 392,571 392,568 392,562 392,565 392,570 392,564 392,567 393,571 393,572 393,574 393,567 393,560 393,568 393,557 393,555 394,582 394,566 394,568 394,576 394,575 394,562 394,567 394,572 394,561 395,568 395,574 395,577 395,573 395,565 395,562 395,575 395,566 395,570 396,559 396,569 396,574 396,566 396,577 396,570 396,564 396,565 397,565 397,582 397,579 397,583 397,570 397,573 397,564 397,562 397,566 398,577 398,560 398,558 398,573 398,571 398,580 398,566 398,572 398,570 398,578 399,572 399,564 399,574 399,563 399,577 399,571 399,561 399,570 399,559 400,564 400,569 400,568 400,573 400,576 400,562 400,582 400,566 400,584 401,573 401,577 401,552 401,571 401,566 401,564 401,575 401,568 402,558 402,577 402,567 402,583 402,563 402,568 402,575 402,573 403,572 403,566 403,582 403,570 403,561 403,574 403,558 403,568 403,563 404,571 404,557 404,562 404,572 404,575 404,563 404,570 404,565 404,567 404,569 405,565 405,569 405,574 405,562 405,556 405,576 405,575 405,568 405,572 405,570 405,566 406,579 406,562 406,568 406,560 406,580 406,567 406,564 406,573 406,571 407,581 407,567 407,579 407,573 407,577 407,576 407,566 407,568 407,563 408,559 408,563 408,566 408,560 408,561 408,570 408,568 408,571 408,564 409,569 409,568 409,562 409,565 409,575 409,573 409,577 409,572 409,564 410,561 410,564 410,563 410,568 410,571 410,570 410,566 411,563 411,574 411,575 411,577 411,571 411,567 411,559 411,555 411,565 411,569 411,570 412,577 412,571 412,570 412,573 412,569 412,566 412,574 412,564 412,568 412,567 412,563 413,557 413,580 413,558 413,567 413,568 413,572 413,571 413,563 413,564 413,569 414,572 414,562 414,558 414,576 414,564 414,570 414,571 414,565 414,579 415,580 415,566 415,560 415,579 415,563 415,569 415,574 415,571 415,570 415,568 415,564 416,560 416,568 416,562 416,567 416,566 416,577 416,574 416,559 417,569 417,572 417,564 417,562 417,571 417,560 417,578 417,563 417,576 417,567 418,576 418,564 418,566 418,571 418,577 418,570 418,580 418,575 418,567 419,586 419,557 419,571 419,572 419,565 419,573 419,569 419,560 419,584 419,574 420,569 420,556 420,567 420,568 420,566 420,571 420,570 420,572 421,580 421,565 421,583 421,576 421,574 421,573 421,572 421,555 421,563 421,577 422,573 422,568 422,575 422,574 422,569 422,562 422,577 423,575 423,576 423,571 423,570 423,572 423,566 423,573 423,574 424,578 424,572 424,570 424,571 424,577 424,562 424,566 424,567 425,578 425,576 425,573 425,570 425,566 425,575 425,565 425,558 426,566 426,570 426,565 426,567 426,561 426,575 426,578 426,573 426,564 427,569 427,572 427,571 427,556 427,568 427,558 427,565 427,564 427,559 427,578 428,570 428,569 428,560 428,568 428,574 428,566 428,573 428,564 428,565 429,573 429,571 429,574 429,568 429,569 429,566 429,575 429,563 430,562 430,572 430,561 430,569 430,563 430,575 430,568 430,566 431,567 431,581 431,575 431,563 431,561 431,571 431,570 431,569 432,564 432,565 432,575 432,573 432,578 432,574 432,568 432,571 432,566 433,570 433,568 433,566 433,574 433,577 433,571 433,565 433,569 433,561 433,573 434,560 434,574 434,565 434,575 434,566 434,562 434,569 434,564 435,562 435,572 435,564 435,571 435,570 435,566 435,577 435,567 435,565 436,564 436,563 436,569 436,561 436,574 436,562 436,565 436,571 436,566 437,567 437,570 437,566 437,548 437,577 437,572 437,561 437,574 437,559 438,559 438,569 438,564 438,567 438,558 438,568 438,561 438,566 438,573 439,573 439,574 439,569 439,575 439,567 439,572 439,576 439,585 439,570 440,572 440,571 440,564 440,556 440,573 440,577 440,569 440,566 441,570 441,576 441,568 441,571 441,580 441,575 441,566 441,572 441,567 441,549 442,567 442,573 442,575 442,570 442,568 442,569 442,574 442,560 442,564 443,573 443,567 443,572 443,568 443,570 443,569 443,565 443,582 443,575 443,561 444,586 444,568 444,565 444,575 444,570 444,564 444,558 444,571 444,557 444,574 445,583 445,563 445,566 445,575 445,561 445,571 445,567 445,568 445,580 446,573 446,571 446,553 446,559 446,565 446,579 446,564 446,563 446,555 447,565 447,572 447,546 447,579 447,554 447,557 447,567 447,575 447,573 448,567 448,579 448,556 448,560 448,572 448,565 448,543 448,569 448,557 448,551 449,570 449,574 449,567 449,559 449,575 449,550 449,561 449,576 449,565 450,558 450,571 450,560 450,562 450,563 450,557 450,556 450,565 450,567 450,579 451,566 451,570 451,560 451,572 451,568 451,559 451,564 452,576 452,569 452,567 452,558 452,564 452,554 452,566 452,580 452,560 453,559 453,569 453,561 453,578 453,563 453,573 453,564 453,570 453,567 454,577 454,579 454,569 454,567 454,574 454,559 454,565 454,555 454,589 455,568 455,577 455,560 455,554 455,558 455,570 455,555 456,563 456,562 456,570 456,569 456,559 456,575 456,572 456,571 456,564 457,572 457,557 457,556 457,582 457,579 457,565 457,570 457,580 457,561 457,562 458,568 458,556 458,570 458,552 458,573 458,569 458,564 458,571 458,561 458,587 459,552 459,568 459,559 459,576 459,567 459,569 459,573 459,560 459,566 460,561 460,559 460,549 460,550 460,567 460,563 460,572 460,554 460,556 461,570 461,574 461,573 461,575 461,577 461,561 461,591 461,565 461,553 461,566 461,569 462,559 462,564 462,567 462,570 462,584 462,580 462,560 462,571 462,578 463,575 463,578 463,576 463,572 463,583 463,556 463,564 463,561 463,560 463,573 464,571 464,581 464,569 464,582 464,558 464,576 464,585 464,567 464,580 464,579 465,579 465,581 465,572 465,575 465,574 465,578 465,587 465,577 465,584 465,586 466,590 466,587 466,582 466,584 466,599 466,575 466,583 467,588 467,585 467,583 467,577 467,582 467,581 467,586 467,584 467,579 468,583 468,580 468,586 468,578 468,581 468,588 468,589 468,593 469,585 469,577 469,580 469,581 469,586 469,583 469,582 469,587 469,591 470,581 470,589 470,587 470,585 470,586 470,579 470,591 471,584 471,588 471,581 471,577 471,585 471,580 471,586 471,587 472,590 472,576 472,579 472,584 472,571 472,587 472,581 472,588 472,586 473,587 473,583 473,586 473,581 473,591 473,594 473,584 474,588 474,583 474,582 474,587 474,593 474,580 474,589 474,585 474,590 475,583 475,587 475,585 475,584 475,589 475,582 475,590 475,586 476,581 476,583 476,589 476,587 476,584 476,580 477,588 477,587 489,502 489,499 489,506 489,516 489,515 489,513 490,516 490,520 490,506 490,511 490,503 490,508 490,509 491,512 491,513 491,509 491,515 491,514 491,504 491,508 491,507 492,505 492,504 492,510 492,519 492,507 492,513 492,508 492,506 492,512 493,509 493,511 493,514 493,506 493,512 493,505 493,516 494,513 494,511 494,504 494,508 494,515 494,510 494,512 494,505 494,506 495,508 495,513 495,505 495,514 495,511 495,512 495,509 495,517 496,508 496,511 496,514 496,515 496,513 496,510 496,512 496,516 497,507 497,512 497,510 497,508 497,509 497,513 498,508 498,510 498,509 498,505 498,507 498,511 498,518 498,506 499,508 499,507 499,510 499,511 499,514 499,516 499,509 500,512 500,508 500,511 500,510 500,516 500,501 500,507 500,506 500,515 500,520 501,507 501,512 501,504 501,508 501,515 501,506 501,513 501,505 501,510 502,515 502,514 502,507 502,509 502,506 502,510 502,500 502,508 503,513 503,506 503,512 503,508 503,510 503,511 503,507 503,516 504,505 504,513 504,515 504,510 504,511 504,506 504,509 504,508 504,519 505,512 505,515 505,510 505,506 505,505 505,513 506,507 506,514 506,511 506,505 506,503 506,509 506,504 506,515 507,511 507,521 507,504 507,512 507,514 507,509 507,515 508,502 508,508 508,514 508,515 508,509 508,518 509,517 509,515 509,513 509,510 509,508 509,502 509,512 509,506 509,507 509,505 510,504 510,511 510,503 510,517 510,510 510,512 510,519 511,513 511,506 511,507 511,511 511,510 511,505 511,509 512,507 512,509 512,513 512,516 512,523 512,504 512,515 512,521 513,508 513,520 513,514 513,509 513,510 513,512 513,511 513,506 513,504 514,510 514,512 514,504 514,515 514,513 514,501 514,505 514,509 515,514 515,513 515,510 515,512 515,509 515,506 515,516 515,520 515,511 516,509 516,507 516,501 516,516 516,514 516,512 516,505 517,506 517,505 517,516 517,515 517,512 517,518 517,510 517,513 517,507 518,517 518,515 518,521 518,510 518,512 518,506 518,513 518,511 518,504 519,524 519,508 519,510 519,506 519,502 519,516 519,519 519,507 520,511 520,519 520,507 520,509 520,510 520,504 521,507 521,512 521,511 521,510 521,516 521,506 521,514 521,517 521,515 522,508 522,510 522,506 522,519 522,517 522,511 522,507 522,505 523,512 523,508 523,511 523,509 523,507 523,515 524,512 524,511 524,519 524,514 524,515 524,510 524,507 525,503 525,513 525,506 525,512 525,509 525,507 525,505 526,511 526,514 526,516 526,515 526,520 526,504 526,508 526,506 526,512 526,510 527,516 527,508 527,509 527,507 527,511 527,523 528,506 528,515 528,514 528,517 528,511 528,512 529,515 529,513 529,507 529,496 529,510 529,514 529,508 529,506 529,511 530,509 530,512 530,520 530,511 530,515 530,513 530,514 530,516 531,516 531,510 531,517 531,518 531,511 531,512 531,514 531,513 531,507 532,504 532,514 532,508 532,512 532,518 532,510 532,517 532,513 533,506 533,522 533,516 533,515 533,514 533,507 533,512 533,511 534,503 534,512 534,516 534,510 534,505 534,519 534,514 535,503 535,512 535,515 535,518 535,513 535,511 535,514 535,510 535,520 536,510 536,511 536,518 536,513 536,506 536,514 536,509 536,517 537,517 537,510 537,506 537,513 537,507 537,515 537,511 537,516 537,518 538,510 538,512 538,517 538,515 538,516 538,511 538,508 539,509 539,511 539,514 539,519 539,510 539,522 539,502 539,513 539,516 540,512 540,514 540,513 540,506 540,511 540,508 540,516 540,509 541,514 541,509 541,520 541,508 541,513 541,507 541,517 541,511 541,503 542,513 542,524 542,514 542,508 542,512 542,520 542,504 542,510 542,515 543,508 543,514 543,507 543,510 543,523 543,511 544,520 544,508 544,517 544,507 544,513 544,504 544,515 544,502 544,511 544,514 545,506 545,510 545,520 545,509 545,512 545,517 545,508 545,503 545,515 546,512 546,515 546,507 546,514 546,516 546,501 546,517 546,518 546,520 547,505 547,514 547,506 547,515 547,510 547,517 547,516 547,520 547,511 548,512 548,514 548,507 548,509 548,515 548,523 548,516 548,505 549,512 549,513 549,516 549,507 549,508 549,515 549,511 550,514 550,504 550,505 550,512 550,507 550,508 550,517 550,526 551,509 551,511 551,514 551,508 551,503 551,519 552,508 552,513 552,512 552,507 552,509 552,518 552,503 552,516 552,522 552,514 553,511 553,513 553,524 553,508 553,510 553,521 553,515 553,517 554,508 554,519 554,509 554,514 554,516 554,522 554,511 554,513 555,510 555,514 555,509 555,518 555,512 555,503 555,515 555,504 556,514 556,511 556,509 556,515 556,510 556,503 557,523 557,520 557,512 557,518 557,519 557,511 557,513 557,506 557,515 558,515 558,507 558,514 558,503 558,517 558,512 558,511 558,509 559,511 559,500 559,509 559,510 559,514 559,519 559,520 559,508 559,515 560,508 560,511 560,510 560,506 560,513 560,519 560,525 561,514 561,503 561,520 561,512 561,510 561,515 561,509 561,517 562,517 562,519 562,516 562,504 562,509 562,511 562,512 562,508 562,507 563,528 563,515 563,510 563,511 563,514 563,513 563,512 564,510 564,509 564,502 564,511 564,512 564,508 564,505 565,505 565,512 565,514 565,506 565,509 565,521 565,515 565,519 565,513 566,506 566,513 566,520 566,514 566,508 566,511 566,509 566,512 567,512 567,516 567,504 567,529 567,519 567,513 567,514 567,507 567,509 567,515 568,515 568,516 568,517 568,508 568,509 568,511 568,514 568,512 568,505 569,511 569,512 569,514 569,515 569,510 569,522 569,508 570,510 570,515 570,514 570,516 570,512 570,518 570,513 571,506 571,513 571,521 571,508 571,518 571,525 571,504 571,520 571,516 571,514 571,515 572,514 572,502 572,517 572,507 572,508 572,520 572,511 572,516 572,512 573,515 573,502 573,519 573,520 573,522 573,507 573,521 573,508 573,512 574,517 574,510 574,514 574,513 574,518 574,512 574,515 574,519 575,515 575,513 575,505 575,522 575,506 575,511 575,523 576,515 576,517 576,507 576,511 576,513 576,514 576,508 577,512 577,515 577,507 577,518 577,514 577,519 577,513 577,509 577,505 578,513 578,511 578,509 578,515 578,510 578,520 578,514 579,509 579,510 579,512 579,511 579,516 579,505 579,513 579,514 579,507 580,513 580,521 580,518 580,514 580,510 580,512 581,513 581,516 581,509 581,511 581,514 581,517 581,515 581,512 582,514 582,509 582,513 582,515 582,519 582,507 582,518 582,505 583,517 583,509 583,511 583,505 583,510 583,512 583,514 583,515 583,516 584,515 584,512 584,514 584,502 584,504 584,518 584,516 585,511 585,517 585,509 585,510 585,512 585,516 585,513 586,514 586,513 586,510 586,517 586,520 586,516 586,527 586,512 586,507 587,519 587,503 587,508 587,518 587,510 587,509 587,515 587,516 587,511 588,515 588,512 588,513 588,517 588,511 588,510 588,519 588,509 589,515 589,516 589,518 589,523 589,514 589,511 589,512 589,513 590,514 590,509 590,511 590,515 590,516 590,520 591,515 591,512 591,509 591,513 591,519 591,523 592,509 592,517 592,513 592,510 592,514 592,508 592,511 593,514 593,509 593,512 593,515 593,513 593,519 593,517 594,519 594,512 594,520 594,503 594,515 594,513 594,502 595,514 595,510 595,511 595,509 595,519 595,512 595,518 595,517 596,508 596,509 596,520 596,518 596,507 596,515 596,511 596,513 596,514 597,515 597,519 597,522 597,517 597,521 597,514 597,516 597,512 597,511 598,516 598,517 598,512 598,518 598,514 598,511 598,513 598,523 599,512 599,509 599,514 599,527 599,516 599,510 599,511 599,519 599,504 599,517 599,513 600,510 600,516 600,513 600,519 600,512 600,527 600,514 600,518 601,517 601,520 601,518 601,512 601,516 601,504 601,515 601,508 601,511 602,512 602,511 602,510 602,507 602,513 602,522 602,519 602,518 603,522 603,516 603,513 603,520 603,514 603,509 603,515 604,515 604,518 604,510 604,516 604,513 604,524 604,511 605,520 605,518 605,512 605,519 605,511 605,507 605,514 605,516 606,515 606,523 606,519 606,525 606,509 606,521 606,518 606,522 606,517 606,514 607,517 607,515 607,502 607,514 608,507 608,512 608,518 608,510 608,516 608,508 608,514 609,518 609,515 609,514 609,511 609,520 609,519 609,513 609,516 610,524 610,522 610,520 610,518 610,515 610,514 610,517 610,512 611,515 611,521 611,513 611,516 611,518 611,519 612,518 612,516 612,514 612,515 612,512 612,523 612,519 613,514 613,516 613,515 613,510 613,523 613,517 613,521 613,519 614,525 614,509 614,514 614,512 614,520 614,513 614,517 614,510 614,516 615,512 615,526 615,509 615,515 615,518 615,513 615,522 615,516 615,524 616,523 616,521 616,524 616,519 616,515 616,512 616,518 616,514 616,517 617,511 617,501 617,516 617,514 617,524 617,520 617,519 617,528 618,518 618,523 618,516 618,517 618,511 618,519 618,513 618,520 619,508 619,513 619,519 619,518 619,515 619,514 619,517 620,514 620,510 620,521 620,516 620,523 620,517 620,518 620,505 621,516 621,508 621,515 621,520 621,518 621,522 621,514 621,513 622,518 622,508 622,510 622,521 622,505 622,514 622,520 623,526 623,515 623,519 623,511 623,513 623,518 623,522 623,514 623,512 624,516 624,511 624,510 624,509 624,513 624,518 625,521 625,519 625,513 625,512 625,517 625,516 625,514 625,511 625,515 626,519 626,517 626,521 626,520 626,526 626,513 627,515 627,514 627,521 627,520 627,518 627,510 627,512 627,508 628,513 628,522 628,514 628,518 628,519 628,511 628,517 628,515 629,518 629,522 629,524 629,507 629,508 629,509 629,515 629,520 629,513 629,514 630,513 630,517 630,510 630,509 630,516 630,520 630,518 630,519 630,514 631,511 631,512 631,513 631,514 631,515 631,525 632,508 632,511 632,514 632,515 632,513 632,522 632,518 632,519 633,515 633,518 633,521 633,511 633,522 633,517 634,518 634,516 634,511 634,513 634,509 634,515 634,506 634,519 635,513 635,525 635,509 635,520 635,514 635,515 635,517 635,522 636,519 636,511 636,527 636,520 636,522 636,517 636,518 637,518 637,502 637,515 637,509 637,514 637,528 637,521 637,522 637,507 637,520 638,527 638,517 638,524 638,515 638,518 638,519 638,512 638,516 639,520 639,525 639,515 639,511 639,514 639,513 639,516 639,518 639,517 640,510 640,521 640,522 640,519 640,516 640,517 640,511 640,518 641,519 641,511 641,515 641,517 641,510 641,518 641,513 641,516 641,509 641,520 642,516 642,520 642,518 642,510 642,519 642,517 642,521 643,520 643,516 643,517 643,515 643,518 643,526 643,521 643,529 643,509 643,512 644,530 644,505 644,525 644,517 644,511 644,516 644,518 644,519 644,515 645,511 645,517 645,521 645,516 645,520 645,518 646,518 646,521 646,517 646,510 646,515 646,525 646,511 646,503 647,509 647,516 647,513 647,501 647,522 647,519 647,515 647,520 648,513 648,519 648,514 648,510 648,520 648,518 648,516 648,505 649,509 649,517 649,519 649,521 649,503 649,523 649,524 649,511 649,507 649,514 650,509 650,512 650,516 650,519 650,521 650,507 650,525 650,518 650,522 651,515 651,517 651,522 651,510 651,520 651,512 651,508 652,517 652,510 652,509 652,516 652,508 652,522 652,512 652,519 652,515 653,512 653,523 653,516 653,520 653,511 653,522 653,510 653,524 653,513 654,521 654,516 654,518 654,513 654,522 654,511 654,519 654,512 654,523 655,518 655,515 655,513 655,519 655,522 655,512 655,516 655,510 656,518 656,520 656,522 656,513 656,517 657,515 657,516 657,517 657,510 657,521 657,520 657,514 658,522 658,513 658,511 658,518 658,505 658,517 658,519 659,519 659,512 659,511 659,514 659,516 659,525 659,521 659,515 659,524 659,508 660,517 660,513 660,516 660,523 660,511 660,512 660,514 661,520 661,519 661,518 661,510 661,514 661,508 661,523 662,513 662,516 662,515 662,522 662,527 662,514 662,519 663,516 663,517 663,522 663,525 663,515 663,518 663,513 664,519 664,512 664,515 664,514 664,526 664,524 664,516 665,511 665,520 665,515 665,514 665,517 665,522 665,518 665,516 666,510 666,516 666,519 666,520 666,525 666,509 666,514 666,517 666,512 666,518 667,516 667,512 667,524 667,514 667,519 667,518 668,521 668,508 668,517 668,520 668,512 668,511 668,522 668,519 669,521 669,517 669,516 669,515 669,520 669,519 669,523 669,507 669,511 670,519 670,517 670,520 670,508 670,512 670,513 670,509 670,516 671,514 671,511 671,513 671,522 671,518 671,515 671,510 671,512 672,516 672,519 672,518 672,514 672,520 672,513 673,508 673,519 673,515 673,523 673,514 673,525 673,539 673,516 673,521 674,518 674,513 674,521 674,515 674,507 674,519 674,517 675,513 675,511 675,526 675,509 675,510 675,519 675,507 675,516 676,515 676,511 676,514 676,512 676,509 676,521 676,517 676,513 676,522 676,516 677,515 677,519 677,520 677,518 677,522 677,511 677,521 678,516 678,517 678,515 678,520 678,524 678,522 678,512 678,523 678,519 679,514 679,507 679,512 679,518 679,515 679,510 679,523 679,516 679,517 680,522 680,518 680,505 680,513 680,517 680,506 680,523 681,513 681,517 681,515 681,518 681,520 681,516 681,512 681,510 681,526 682,515 682,518 682,509 682,511 682,516 682,521 682,522 682,519 682,514 683,501 683,514 683,522 683,517 683,518 683,516 683,520 684,512 684,517 684,524 684,518 684,510 684,513 684,509 684,522 685,525 685,519 685,512 685,520 685,517 685,522 685,515 685,518 685,521 686,516 686,517 686,524 686,515 686,510 686,519 686,514 686,513 687,520 687,514 687,510 687,516 687,524 687,518 687,515 688,524 688,535 688,519 688,516 688,522 688,517 688,511 689,519 689,521 689,526 689,513 689,518 689,515 690,518 690,513 690,519 690,520 690,515 690,516 690,522 691,521 691,517 691,514 691,523 691,522 691,524 691,519 691,516 692,517 692,519 692,514 692,520 692,513 692,515 692,508 692,511 692,516 693,516 693,518 693,506 693,511 693,512 693,521 693,519 693,517 693,510 694,518 694,519 694,512 694,522 694,517 694,510 694,513 695,510 695,521 695,528 695,530 695,515 695,517 695,511 695,512 695,518 696,514 696,505 696,520 696,521 696,517 696,519 696,518 696,511 696,523 697,514 697,511 697,519 697,522 697,518 697,517 697,510 697,515 697,530 698,517 698,528 698,523 698,512 698,520 698,513 698,518 699,516 699,510 699,512 699,514 699,522 699,519 699,518 699,517 700,515 700,512 700,518 700,520 700,517 700,523 700,519 700,516 700,526 700,522 701,515 701,530 701,513 701,518 701,512 701,520 701,514 701,502 702,525 702,518 702,516 702,513 702,524 702,520 702,519 702,512 703,520 703,513 703,517 703,521 703,523 703,519 703,518 703,515 704,514 704,518 704,525 704,517 704,522 704,520 704,509 705,523 705,516 705,524 705,522 705,520 705,521 705,517 706,516 706,519 706,524 706,521 706,517 706,512 706,522 707,513 707,517 707,521 707,518 707,519 707,516 707,526 707,522 707,524 708,520 708,517 708,519 708,518 708,524 708,515 709,511 709,521 709,513 709,519 709,517 709,518 709,510 710,517 710,518 710,520 710,516 710,513 710,514 710,522 710,510 710,521 711,514 711,522 711,517 711,512 711,518 711,511 711,520 711,504 711,516 711,524 712,518 712,511 712,517 712,514 712,515 713,519 713,518 713,513 713,517 713,521 713,529 713,524 714,515 714,512 714,522 714,523 714,520 714,517 714,511 714,513 714,519 715,523 715,510 715,513 715,518 715,525 715,511 715,519 716,519 716,515 716,512 716,517 716,522 716,518 716,513 716,514 717,509 717,525 717,515 717,526 717,521 717,519 717,517 717,516 717,506 717,514 718,511 718,517 718,510 718,523 718,515 718,518 718,514 719,526 719,519 719,511 719,512 719,522 719,513 719,521 719,518 720,517 720,509 720,519 720,529 720,511 720,520 720,513 721,513 721,520 721,530 721,512 721,515 721,516 721,519 721,521 721,514 721,518 722,520 722,517 722,521 722,518 722,516 722,514 722,515 722,511 723,518 723,506 723,527 723,522 723,521 723,517 723,512 723,515 724,519 724,517 724,511 724,515 724,507 724,523 724,513 724,522 724,518 725,514 725,512 725,517 725,513 725,519 725,520 725,532 725,525 726,520 726,519 726,516 726,509 726,514 726,517 726,524 726,506 727,512 727,516 727,519 727,513 727,520 727,523 727,524 727,518 727,517 727,522 728,513 728,517 728,521 728,516 728,514 728,518 728,523 728,519 728,512 729,514 729,523 729,521 729,519 729,513 729,516 729,515 729,518 730,523 730,516 730,518 730,521 730,509 730,519 730,513 730,520 731,524 731,520 731,521 731,525 731,516 731,519 731,523 731,526 732,519 732,530 732,516 732,523 732,520 732,515 732,518 732,513 733,510 733,522 733,520 733,516 733,513 733,515 733,517 733,527 733,518 733,519 734,518 734,519 734,527 734,515 734,521 734,513 734,525 734,520 734,524 735,514 735,522 735,520 735,515 735,519 735,516 735,521 735,517 736,518 736,526 736,529 736,519 736,511 736,510 736,515 736,521 736,517 736,513 737,516 737,512 737,510 737,521 737,514 737,518 737,519 737,515 738,515 738,520 738,514 738,530 738,525 738,522 738,518 738,527 738,519 739,522 739,520 739,512 739,518 739,510 739,513 739,516 739,523 740,510 740,520 740,517 740,516 740,514 740,513 740,524 741,524 741,523 741,516 741,518 741,521 741,517 741,532 741,515 741,522 742,519 742,512 742,509 742,520 742,517 742,513 742,516 742,518 742,515 743,518 743,521 743,520 743,534 743,517 743,516 743,511 743,513 744,514 744,515 744,519 744,516 744,513 744,518 744,523 744,508 745,515 745,518 745,517 745,521 745,522 745,516 745,520 745,524 745,513 746,517 746,516 746,525 746,518 746,522 746,515 747,515 747,519 747,520 747,518 747,521 747,524 747,522 747,517 747,512 748,525 748,521 748,527 748,509 748,516 748,512 748,524 748,517 749,518 749,517 749,516 749,515 749,521 749,527 749,513 749,519 750,521 750,513 750,514 750,519 750,517 750,515 750,520 750,516 751,520 751,525 751,526 751,514 751,517 751,524 751,513 751,519 751,512 752,522 752,524 752,518 752,521 752,519 752,515 752,517 753,522 753,523 753,518 753,517 753,519 753,520 753,510 753,515 753,513 754,526 754,513 754,515 754,516 754,514 754,521 754,522 754,524 754,518 755,516 755,524 755,515 755,519 755,510 755,512 755,514 756,519 756,516 756,526 756,524 756,527 756,520 756,513 756,517 756,515 757,518 757,520 757,524 757,522 757,521 757,515 757,512 758,514 758,508 758,521 758,515 758,513 758,523 758,516 758,524 758,520 759,522 759,518 759,521 759,519 759,526 759,517 759,512 759,520 760,520 760,519 760,515 760,509 760,525 760,512 760,518 760,528 761,519 761,535 761,524 761,520 761,522 761,526 761,517 761,525 762,523 762,518 762,514 762,516 762,517 762,512 762,506 763,518 763,515 763,524 763,507 763,531 763,516 763,517 763,514 764,523 764,518 764,519 764,520 764,521 765,521 765,518 765,515 765,509 765,516 765,522 765,520 765,519 766,515 766,520 766,519 766,513 766,531 766,522 767,518 767,515 767,516 767,517 767,524 767,522 767,521 768,515 768,521 768,517 768,524 768,510 768,519 768,518 768,513 769,515 769,511 769,520 769,521 769,516 769,518 769,522 769,517 770,513 770,515 770,519 770,516 770,520 770,522 770,514 771,511 771,525 771,523 771,515 771,514 771,519 771,517 771,528 771,521 772,517 772,518 772,509 772,515 772,519 772,514 772,523 772,521 772,525 773,523 773,521 773,512 773,515 773,511 773,520 774,525 774,521 774,520 774,524 774,513 774,527 774,510 774,523 774,517 774,515 775,520 775,509 775,522 775,517 775,521 775,523 775,514 775,519 776,515 776,511 776,517 776,519 776,522 776,518 776,514 776,516 776,525 777,520 777,518 777,516 777,524 777,519 777,517 777,525 777,515 778,515 778,518 778,514 778,521 778,520 778,519 778,527 778,522 778,525 779,523 779,514 779,516 779,521 779,524 779,512 779,515 780,518 780,514 780,523 780,519 780,513 780,510 780,529 781,522 781,523 781,528 781,513 781,511 781,525 781,520 781,531 781,512 782,528 782,515 782,520 782,522 782,517 782,523 782,516 782,519 782,513 783,519 783,518 783,514 783,520 783,524 783,515 783,521 783,526 784,518 784,519 784,531 784,514 784,516 784,510 785,519 785,521 785,514 785,523 785,515 785,522 786,514 786,517 786,516 786,521 786,526 786,529 787,511 787,518 787,515 787,513 787,522 787,517 787,512 787,520 788,519 788,529 788,514 788,511 788,517 788,513 788,522 788,524 789,515 789,521 789,510 789,528 789,520 789,519 789,516 789,525 790,522 790,513 790,515 790,520 790,519 790,517 790,527 790,516 791,516 791,511 791,512 791,518 791,528 791,524 791,526 791,522 791,515 791,513 791,520 792,521 792,523 792,513 792,516 792,514 792,524 792,520 792,518 792,511 792,527 793,516 793,522 793,515 793,517 793,518 793,521 794,523 794,519 794,512 794,520 794,518 794,513 794,509 794,515 794,517 795,524 795,523 795,518 795,517 795,530 795,526 795,515 795,519 795,522 796,518 796,516 796,526 796,515 796,519 796,514 796,512 796,525 796,521 797,518 797,522 797,519 797,511 797,524 797,521 797,509 797,515 797,516 798,518 798,536 798,519 798,517 798,522 798,512 798,513 799,516 799,518 799,523 799,522 799,521 799,520 799,517 799,511 800,517 800,522 800,514 800,525 800,515 800,511 800,529 800,519 801,511 801,521 801,520 801,518 801,510 801,524 801,514 802,511 802,517 802,524 802,519 802,525 802,518 802,532 802,514 803,519 803,515 803,522 803,527 803,530 803,524 803,521 803,520 803,518 804,512 804,515 804,518 804,517 804,522 804,516 804,519 804,521 804,520 805,524 805,520 805,516 805,521 805,510 805,515 805,522 805,513 805,512 806,523 806,518 806,524 806,513 806,519 806,514 806,517 806,515 807,519 807,517 807,512 807,513 807,516 807,518 807,520 807,522 808,511 808,513 808,518 808,523 808,519 808,525 808,522 808,520 809,523 809,522 809,520 809,517 809,515 809,521 809,514 810,517 810,519 810,520 810,523 810,512 810,521 810,522 810,516 811,514 811,515 811,523 811,520 811,521 811,525 811,517 811,513 812,518 812,522 812,517 812,519 812,527 812,508 812,509 812,520 812,523 813,523 813,518 813,520 813,519 813,516 813,517 813,524 813,527 814,517 814,520 814,521 814,516 814,513 814,518 814,523 814,525 814,526 815,524 815,520 815,518 815,516 815,515 815,508 815,521 816,516 816,519 816,520 816,523 816,517 816,515 816,521 816,526 817,518 817,514 817,522 817,516 817,525 817,519 817,513 817,527 818,521 818,526 818,520 818,519 818,516 818,513 818,518 818,524 819,517 819,521 819,520 819,523 819,513 819,525 819,519 819,524 819,515 820,517 820,522 820,518 820,506 820,515 820,521 820,524 820,523 820,519 820,520 821,519 821,522 821,517 821,520 821,525 821,523 821,515 821,521 822,526 822,515 822,518 822,516 822,520 822,525 822,510 822,519 823,515 823,516 823,524 823,529 823,521 823,513 823,527 823,523 824,525 824,521 824,519 824,523 824,524 824,510 824,520 824,522 825,514 825,518 825,522 825,523 825,521 825,515 825,517 825,524 826,527 826,510 826,515 826,528 826,523 826,516 826,517 826,518 826,524 826,513 827,520 827,518 827,522 827,515 827,519 827,523 827,516 827,517 828,515 828,516 828,522 828,521 828,519 828,513 828,518 828,520 828,523 829,522 829,513 829,529 829,520 829,518 829,509 829,521 829,515 829,524 829,523 830,520 830,521 830,518 830,516 830,519 830,513 831,523 831,520 831,517 831,521 831,518 831,511 831,524 832,523 832,520 832,514 832,522 832,521 832,515 832,518 832,526 832,524 833,522 833,518 833,523 833,520 833,513 833,519 833,525 834,517 834,529 834,519 834,522 834,521 834,512 834,515 834,514 835,525 835,526 835,514 835,521 835,524 835,512 835,517 835,520 836,517 836,523 836,527 836,530 836,521 836,525 836,513 836,520 836,526 837,511 837,524 837,514 837,522 837,530 837,516 837,518 837,520 837,525 838,522 838,519 838,520 838,516 838,517 838,518 838,523 838,526 838,521 839,522 839,521 839,525 839,514 839,517 839,523 839,515 839,513 839,518 840,524 840,519 840,515 840,528 840,518 840,523 840,517 841,515 841,514 841,528 841,517 841,524 841,522 841,516 841,512 841,513 842,527 842,513 842,520 842,522 842,523 842,516 842,515 842,532 842,525 843,512 843,524 843,520 843,522 843,516 843,515 843,521 843,519 843,518 844,532 844,518 844,526 844,520 844,524 844,512 844,527 844,517 844,513 844,538 845,520 845,517 845,519 845,514 845,524 845,516 845,518 846,523 846,515 846,506 846,522 846,524 846,512 846,517 846,513 846,521 847,518 847,524 847,511 847,523 847,515 847,519 847,516 847,520 847,522 848,520 848,521 848,524 848,515 848,529 848,516 848,519 848,525 848,522 848,513 849,515 849,521 849,518 849,510 849,520 849,525 849,519 849,516 850,516 850,519 850,521 850,522 850,529 850,514 850,518 850,523 851,518 851,522 851,517 851,521 851,523 851,530 851,516 851,524 851,519 852,523 852,524 852,513 852,530 852,532 852,514 852,515 852,521 852,520 853,521 853,516 853,525 853,522 853,514 853,526 853,519 854,523 854,526 854,512 854,529 854,522 854,517 854,532 854,516 854,515 854,530 855,528 855,524 855,519 855,516 855,518 855,521 855,515 855,509 855,520 856,522 856,520 856,510 856,527 856,514 856,516 856,515 856,518 856,525 856,521 857,519 857,523 857,520 857,514 857,521 857,518 857,511 857,517 857,522 858,515 858,519 858,516 858,524 858,517 858,518 859,514 859,518 859,517 859,512 859,516 859,513 859,524 859,521 860,523 860,524 860,520 860,522 860,514 860,519 860,525 861,520 861,515 861,522 861,516 861,524 861,519 861,526 861,517 861,518 862,518 862,531 862,533 862,525 862,517 862,522 862,519 862,520 862,521 862,516 863,526 863,522 863,515 863,533 863,514 863,521 863,517 864,522 864,519 864,523 864,526 864,524 864,510 864,521 864,513 864,515 865,510 865,515 865,517 865,514 865,526 865,520 865,522 866,515 866,519 866,523 866,525 866,520 866,514 867,515 867,513 867,516 867,520 867,514 867,524 867,522 867,526 868,520 868,512 868,506 868,526 868,523 868,514 868,516 868,517 868,518 869,517 869,525 869,521 869,513 869,528 869,522 869,520 869,524 870,520 870,521 870,515 870,519 870,518 870,525 871,513 871,518 871,520 871,524 871,523 871,519 871,509 872,514 872,524 872,513 872,520 872,522 872,515 872,518 872,519 872,521 872,529 873,519 873,517 873,520 873,523 873,524 873,514 873,526 873,522 874,518 874,525 874,526 874,520 874,524 874,522 874,515 874,523 875,522 875,519 875,515 875,514 875,511 875,520 875,526 875,521 875,523 876,519 876,520 876,524 876,521 876,513 876,514 876,512 876,523 877,516 877,515 877,521 877,523 877,517 877,531 878,516 878,519 878,525 878,527 878,523 878,521 878,513 878,518 878,533 879,520 879,514 879,515 879,519 879,518 879,527 879,517 879,513 879,521 879,523 880,515 880,522 880,525 880,520 880,524 880,519 880,523 880,517 881,525 881,522 881,530 881,521 881,520 881,516 881,513 881,517 881,519 882,532 882,524 882,526 882,518 882,519 882,530 882,517 882,514 882,525 883,522 883,524 883,518 883,520 883,521 883,514 883,516 884,522 884,519 884,527 884,523 884,516 884,521 884,526 885,521 885,519 885,513 885,517 885,524 885,518 885,520 885,522 886,517 886,519 886,513 886,515 886,524 886,518 886,520 886,516 886,511 886,522 887,520 887,519 887,516 887,517 887,522 887,514 887,518 888,519 888,520 888,518 888,517 888,524 888,522 888,510 888,521 889,516 889,518 889,524 889,510 889,520 889,521 889,517 890,521 890,518 890,522 890,517 890,525 890,513 891,512 891,523 891,529 891,513 891,517 891,509 891,515 891,521 891,526 892,519 892,525 892,528 892,517 892,512 892,520 892,518 892,530 892,521 893,520 893,518 893,524 893,521 893,519 893,514 894,515 894,519 894,518 894,517 894,522 894,513 894,516 894,514 894,524 895,516 895,521 895,518 895,515 895,512 895,533 895,527 895,519 895,532 895,523 896,515 896,532 896,517 896,518 896,510 896,522 897,521 897,524 897,515 897,520 897,527 897,522 897,523 897,513 898,517 898,513 898,526 898,525 898,520 898,532 898,523 898,516 898,521 899,528 899,525 899,521 899,526 899,519 899,517 899,522 899,518 899,529 899,524 900,518 900,517 900,521 900,515 900,524 900,520 900,529 901,516 901,527 901,528 901,523 901,519 901,514 901,522 901,524 901,521 901,525 902,521 902,522 902,526 902,517 902,527 902,519 902,509 902,508 902,516 903,529 903,521 903,518 903,519 903,509 903,515 903,522 903,531 904,530 904,510 904,525 904,523 904,518 904,520 904,519 905,525 905,518 905,519 905,517 905,514 905,526 905,524 905,516 906,518 906,520 906,524 906,513 906,525 906,515 906,523 906,521 907,521 907,519 907,524 907,532 907,520 907,527 907,518 907,517 907,531 907,529 908,529 908,516 908,525 908,514 908,540 908,520 908,511 908,512 908,515 908,519 908,517 909,527 909,522 909,526 909,518 909,512 909,525 909,528 909,513 909,508 909,520 910,520 910,521 910,526 910,525 910,519 910,517 910,523 910,522 911,523 911,521 911,527 911,520 911,513 911,526 911,529 911,519 911,515 912,516 912,521 912,513 912,515 912,520 912,528 912,512 912,517 912,522 913,524 913,521 913,522 913,520 913,515 913,518 913,523 914,526 914,521 914,514 914,512 914,523 914,513 914,519 914,527 914,524 915,516 915,523 915,509 915,520 915,519 915,517 915,525 915,527 916,517 916,521 916,523 916,522 916,518 916,515 916,525 916,520 917,523 917,524 917,516 917,517 917,518 917,521 917,522 918,515 918,514 918,520 918,517 918,516 918,523 918,527 918,526 918,522 918,519 919,520 919,526 919,516 919,523 919,517 919,519 369,326 369,344 369,357 370,361 369,365 369,370 369,383 369,384 369,393 369,427 369,439 370,452 369,454 370,455 372,456 370,458 368,460 370,461 370,463 371,465 368,467 369,468 369,469 369,470 371,471 370,472 369,474 371,475 371,477 372,478 371,479 369,481 369,482 370,483 370,484 372,486 371,488 372,490 371,491 371,492 368,493 369,495 372,496 371,498 372,499 371,502 370,503 368,504 369,505 371,507 372,509 369,510 369,511 370,513 371,514 371,516 372,517 372,519 370,520 370,522 370,524 370,525 368,527 371,528 368,529 368,531 370,532 371,533 372,535 372,536 371,538 369,539 370,541 370,543 368,544 369,545 369,546 370,547 371,549 372,551 370,552 371,554 371,555 370,556 367,558 368,559 367,560 368,561 367,563 366,564 366,566 365,569 365,571 366,572 365,574 366,575 366,577 366,578 365,579 365,581 365,582 365,584 365,586 366,588 366,589 365,591 365,592 366,593 365,594 365,596 365,598 366,600 365,601 365,604 365,605 365,607 365,608 365,609 366,610 365,612 365,614 366,616 366,617 366,619 365,621 366,622 366,623 365,624 366,626 366,629 366,630 365,631 366,633 365,635 365,637 365,638 365,639 365,641 362,493 477,211 477,252 478,326 478,330 478,334 479,345 479,349 478,356 481,357 482,357 480,359 478,361 480,363 481,365 479,366 481,369 478,370 479,371 479,374 481,375 479,377 481,379 481,380 483,382 483,384 481,385 482,387 483,388 484,389 482,391 479,394 480,396 480,397 480,399 480,401 483,403 480,405 480,407 482,408 481,410 485,411 485,414 483,415 484,417 482,419 482,421 484,423 483,426 485,427 486,428 483,430 484,431 482,432 486,434 483,436 485,437 485,439 484,441 487,443 487,444 487,445 487,447 487,448 486,449 485,450 484,452 488,453 485,455 487,456 487,458 487,460 488,462 485,463 486,464 486,466 485,468 488,471 487,472 489,473 486,475 487,476 489,478 489,480 487,482 490,483 489,484 486,486 490,488 489,490 490,491 490,493 488,495 487,497 487,498 488,500 488,501 491,503 489,504 487,506 488,506 477,360 477,364 476,367 477,372 478,376 476,382 478,387 477,393 477,397 477,402 476,407 478,413 477,420 478,424 478,427 477,431 476,437 476,444 476,449 478,455 477,459 478,464 476,471 477,476 478,481 477,485"/>
<text x="139.6" y="808" font-size="21.5" fill="#262626" text-anchor="middle" textLength="50.6" lengthAdjust="spacingAndGlyphs">2003</text>
<text x="206.5" y="808" font-size="21.5" fill="#262626" text-anchor="middle" textLength="50.6" lengthAdjust="spacingAndGlyphs">2005</text>
<text x="273.4" y="808" font-size="21.5" fill="#262626" text-anchor="middle" textLength="50.6" lengthAdjust="spacingAndGlyphs">2007</text>
<text x="340.3" y="808" font-size="21.5" fill="#262626" text-anchor="middle" textLength="50.6" lengthAdjust="spacingAndGlyphs">2009</text>
<text x="407.2" y="808" font-size="21.5" fill="#262626" text-anchor="middle" textLength="50.6" lengthAdjust="spacingAndGlyphs">2011</text>
<text x="474.1" y="808" font-size="21.5" fill="#262626" text-anchor="middle" textLength="50.6" lengthAdjust="spacingAndGlyphs">2013</text>
<text x="541.0" y="808" font-size="21.5" fill="#262626" text-anchor="middle" textLength="50.6" lengthAdjust="spacingAndGlyphs">2015</text>
<text x="607.9" y="808" font-size="21.5" fill="#262626" text-anchor="middle" textLength="50.6" lengthAdjust="spacingAndGlyphs">2017</text>
<text x="674.8" y="808" font-size="21.5" fill="#262626" text-anchor="middle" textLength="50.6" lengthAdjust="spacingAndGlyphs">2019</text>
<text x="741.7" y="808" font-size="21.5" fill="#262626" text-anchor="middle" textLength="50.6" lengthAdjust="spacingAndGlyphs">2021</text>
<text x="808.6" y="808" font-size="21.5" fill="#262626" text-anchor="middle" textLength="50.6" lengthAdjust="spacingAndGlyphs">2023</text>
<text x="875.5" y="808" font-size="21.5" fill="#262626" text-anchor="middle" textLength="50.6" lengthAdjust="spacingAndGlyphs">2025</text>
<text x="121.3" y="764.8" font-size="21.5" fill="#262626" text-anchor="end" textLength="30" lengthAdjust="spacingAndGlyphs">0.1</text>
<text x="121.3" y="673.7" font-size="21.5" fill="#262626" text-anchor="end" textLength="30" lengthAdjust="spacingAndGlyphs">0.2</text>
<text x="121.3" y="582.5" font-size="21.5" fill="#262626" text-anchor="end" textLength="30" lengthAdjust="spacingAndGlyphs">0.3</text>
<text x="121.3" y="491.4" font-size="21.5" fill="#262626" text-anchor="end" textLength="30" lengthAdjust="spacingAndGlyphs">0.4</text>
<text x="121.3" y="400.3" font-size="21.5" fill="#262626" text-anchor="end" textLength="30" lengthAdjust="spacingAndGlyphs">0.5</text>
<text x="121.3" y="309.2" font-size="21.5" fill="#262626" text-anchor="end" textLength="30" lengthAdjust="spacingAndGlyphs">0.6</text>
<text x="121.3" y="218.0" font-size="21.5" fill="#262626" text-anchor="end" textLength="30" lengthAdjust="spacingAndGlyphs">0.7</text>
<text x="121.3" y="126.9" font-size="21.5" fill="#262626" text-anchor="end" textLength="30" lengthAdjust="spacingAndGlyphs">0.8</text>
<g transform="translate(77,0) rotate(-90)" font-size="23.3" fill="#262626">
<text x="-639.6" y="0" textLength="57.6" lengthAdjust="spacingAndGlyphs">Noise</text>
<text x="-573.2" y="0" textLength="117" lengthAdjust="spacingAndGlyphs">Equivalent</text>
<text x="-448" y="0" textLength="49.2" lengthAdjust="spacingAndGlyphs">Delta</text>
<text x="-388.6" y="0" textLength="147.4" lengthAdjust="spacingAndGlyphs">Temperature</text>
<text x="-234" y="0" textLength="31.2" lengthAdjust="spacingAndGlyphs">(K)</text>
</g>
<g font-size="21.3" font-weight="bold" fill="#000">
<text x="333.0" y="22.8" textLength="52.4" lengthAdjust="spacingAndGlyphs">AIRS</text>
<text x="394.0" y="22.8" textLength="94.6" lengthAdjust="spacingAndGlyphs">Channel</text>
<text x="496.8" y="22.8" textLength="44.4" lengthAdjust="spacingAndGlyphs">647</text>
<text x="549.2" y="22.8" textLength="61.0" lengthAdjust="spacingAndGlyphs">NEdT</text>
<text x="618.6" y="22.8" textLength="99.0" lengthAdjust="spacingAndGlyphs">(@250K)</text>
<text x="394.2" y="52.7" textLength="78.2" lengthAdjust="spacingAndGlyphs">[M–08,</text>
<text x="481.0" y="52.7" textLength="93.2" lengthAdjust="spacingAndGlyphs">863.314</text>
<text x="583.6" y="52.7" textLength="72.8" lengthAdjust="spacingAndGlyphs">cm–1]</text>
</g>
<rect x="935.5" y="64.5" width="136" height="79" fill="#fff" stroke="#262626" stroke-width="1"/>
<path d="M970.6 75.3l9.4 9.4M980 75.3l-9.4 9.4" stroke="#2fe02f" stroke-width="0.9" fill="none"/>
<path d="M969 104.5h13M975.5 98v13" stroke="#f02020" stroke-width="0.9" fill="none"/>
<circle cx="975.5" cy="128" r="6.4" stroke="#2020b8" stroke-width="0.9" fill="none"/>
<text x="1014" y="87.6" font-size="18.3" fill="#000" textLength="46.3" lengthAdjust="spacingAndGlyphs">Mean</text>
<text x="1014" y="111.1" font-size="18.3" fill="#000" textLength="34.5" lengthAdjust="spacingAndGlyphs">Max</text>
<text x="1014" y="134.7" font-size="18.3" fill="#000" textLength="30" lengthAdjust="spacingAndGlyphs">Min</text>
<g id="logo">
<circle cx="935.9" cy="25.9" r="20.7" fill="#1d45a8"/>
<path d="M926.2 12.4C928.5 11.2 931.5 13.5 934.8 18.5C938 23.5 939.6 30 936.2 34.4" stroke="#fff" stroke-width="0.8" fill="none" opacity="0.8"/>
<path d="M936.2 34.4C934 35.5 931 33 928.5 28C926 23 925 15.5 926.2 12.4" stroke="#fff" stroke-width="0.6" fill="none" opacity="0.35"/>
<g fill="#fff" opacity="0.85"><circle cx="929.5" cy="11" r="0.6"/><circle cx="940.5" cy="9.5" r="0.7"/><circle cx="925.5" cy="15.5" r="0.5"/><circle cx="920.8" cy="35.5" r="0.7"/><circle cx="947.5" cy="33" r="0.7"/><circle cx="951.5" cy="32.5" r="0.5"/><circle cx="928.5" cy="41" r="0.6"/><circle cx="945" cy="38.5" r="0.5"/><circle cx="933" cy="15" r="0.5"/><circle cx="950" cy="37" r="0.5"/></g>
<path d="M913 31.6C924 30 936 26 944 21.8C944.5 23 944 24.5 941.5 25.8C934 28.8 923 31.2 913 31.6Z" fill="#e8402e" opacity="0.55"/>
<path d="M918.6 43.4C928 36 936 30 941.5 25.8C944 24.5 948 23 949.5 23.8C942 28.5 930 36.5 918.6 43.4Z" fill="#e8402e" opacity="0.6"/>
<text x="936.7" y="29.7" font-size="10.8" font-weight="bold" fill="#fff" text-anchor="middle" textLength="36.4" lengthAdjust="spacingAndGlyphs" style="font-family:'Liberation Serif',serif">NASA</text>
<path d="M939.5 23.6C946 21.2 953.5 15.8 963.8 7.8C958 16 952.5 21.2 946 24.4C943.5 25.4 941 25 939.5 23.6Z" fill="#f0402c"/>
</g>
<text x="966.3" y="24.7" font-size="14.2" font-weight="bold" fill="#000" textLength="174.4" lengthAdjust="spacingAndGlyphs">Jet Propulsion Laboratory</text>
<text x="966.3" y="38.2" font-size="11.6" fill="#000" textLength="174" lengthAdjust="spacingAndGlyphs">California Institute of Technology</text>
</svg></body></html>
